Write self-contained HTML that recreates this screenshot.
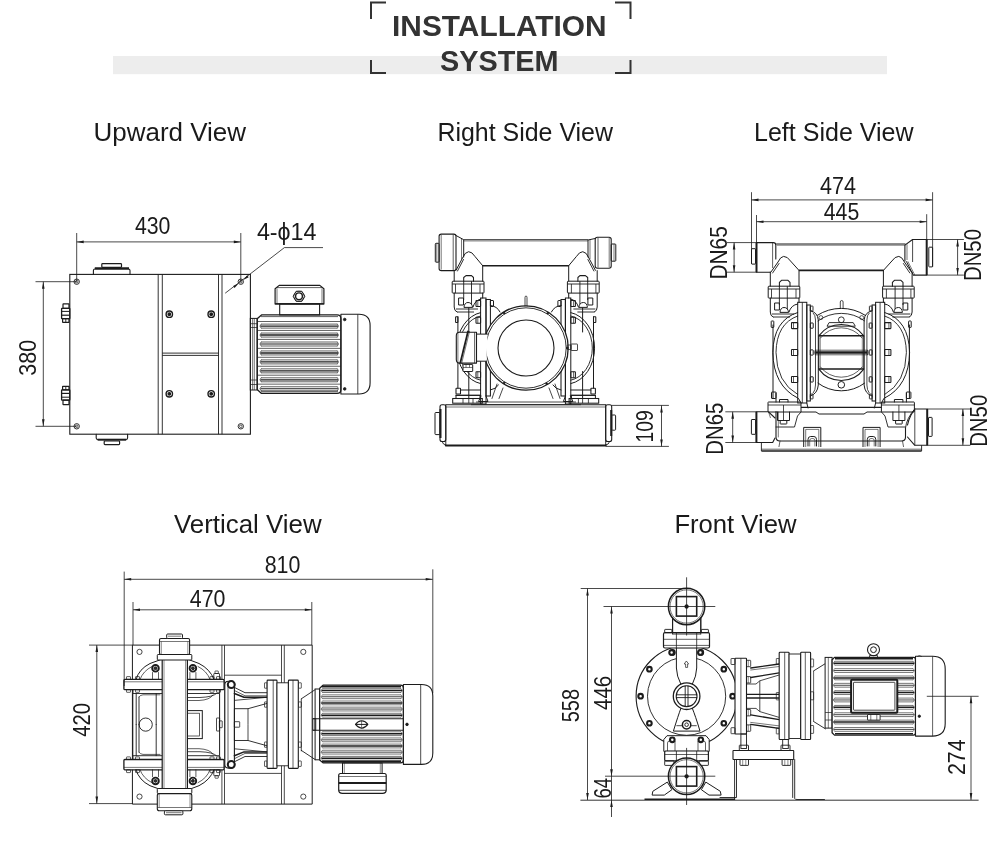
<!DOCTYPE html>
<html><head><meta charset="utf-8"><title>Installation System</title>
<style>html,body{margin:0;padding:0;background:#fff}body{width:1000px;height:854px;overflow:hidden}svg{display:block;will-change:transform;opacity:.999}text{font-family:"Liberation Sans",sans-serif}</style>
</head><body>
<svg width="1000" height="854" viewBox="0 0 1000 854">
<rect x="113" y="56" width="774" height="18.2" fill="#ededed"/>
<path d="M371 19V2.5H386" stroke="#333" stroke-width="2" fill="none"/>
<path d="M371 60V73H386" stroke="#333" stroke-width="2" fill="none"/>
<path d="M630.5 19V2.5H615" stroke="#333" stroke-width="2" fill="none"/>
<path d="M630.5 60V73H615" stroke="#333" stroke-width="2" fill="none"/>
<text x="499.3" y="36" font-size="29" text-anchor="middle" font-weight="700" fill="#333" textLength="214.5" lengthAdjust="spacingAndGlyphs">INSTALLATION</text>
<text x="499.3" y="70.5" font-size="29" text-anchor="middle" font-weight="700" fill="#333" textLength="118.5" lengthAdjust="spacingAndGlyphs">SYSTEM</text>
<text x="93.5" y="140.6" font-size="25.5" text-anchor="start" font-weight="400" fill="#1a1a1a" textLength="152.5" lengthAdjust="spacingAndGlyphs">Upward View</text>
<text x="437.4" y="140.6" font-size="25.5" text-anchor="start" font-weight="400" fill="#1a1a1a" textLength="175.6" lengthAdjust="spacingAndGlyphs">Right Side View</text>
<text x="754" y="140.6" font-size="25.5" text-anchor="start" font-weight="400" fill="#1a1a1a" textLength="159.6" lengthAdjust="spacingAndGlyphs">Left Side View</text>
<text x="174" y="532.9" font-size="25.5" text-anchor="start" font-weight="400" fill="#1a1a1a" textLength="147.6" lengthAdjust="spacingAndGlyphs">Vertical View</text>
<text x="674.4" y="532.9" font-size="25.5" text-anchor="start" font-weight="400" fill="#1a1a1a" textLength="122.1" lengthAdjust="spacingAndGlyphs">Front View</text>
<rect x="69.8" y="274.4" width="180.6" height="159.8" rx="0" stroke="#1c1c1c" stroke-width="1.1" fill="none"/>
<path d="M158.2 274.4L158.2 434.2" stroke="#1c1c1c" stroke-width="0.9" fill="none"/>
<path d="M162.3 274.4L162.3 434.2" stroke="#1c1c1c" stroke-width="0.9" fill="none"/>
<path d="M218.5 274.4L218.5 434.2" stroke="#1c1c1c" stroke-width="0.9" fill="none"/>
<path d="M222 274.4L222 434.2" stroke="#1c1c1c" stroke-width="0.9" fill="none"/>
<path d="M162.3 353.1L218.5 353.1" stroke="#1c1c1c" stroke-width="0.9" fill="none"/>
<path d="M162.3 355.4L218.5 355.4" stroke="#1c1c1c" stroke-width="0.9" fill="none"/>
<circle cx="76.7" cy="281.7" r="2.7" stroke="#1c1c1c" stroke-width="0.9" fill="none"/>
<circle cx="76.7" cy="281.7" r="1.3" stroke="#1c1c1c" stroke-width="0.7" fill="none"/>
<circle cx="240.8" cy="281.7" r="2.7" stroke="#1c1c1c" stroke-width="0.9" fill="none"/>
<circle cx="240.8" cy="281.7" r="1.3" stroke="#1c1c1c" stroke-width="0.7" fill="none"/>
<circle cx="76.7" cy="426.3" r="2.7" stroke="#1c1c1c" stroke-width="0.9" fill="none"/>
<circle cx="76.7" cy="426.3" r="1.3" stroke="#1c1c1c" stroke-width="0.7" fill="none"/>
<circle cx="240.8" cy="426.3" r="2.7" stroke="#1c1c1c" stroke-width="0.9" fill="none"/>
<circle cx="240.8" cy="426.3" r="1.3" stroke="#1c1c1c" stroke-width="0.7" fill="none"/>
<circle cx="169.3" cy="314.2" r="3.2" stroke="#1c1c1c" stroke-width="1.4" fill="none"/>
<circle cx="169.3" cy="314.2" r="1.3" stroke="#1c1c1c" stroke-width="1.2" fill="#1c1c1c"/>
<circle cx="211.2" cy="314.2" r="3.2" stroke="#1c1c1c" stroke-width="1.4" fill="none"/>
<circle cx="211.2" cy="314.2" r="1.3" stroke="#1c1c1c" stroke-width="1.2" fill="#1c1c1c"/>
<circle cx="169.3" cy="393.8" r="3.2" stroke="#1c1c1c" stroke-width="1.4" fill="none"/>
<circle cx="169.3" cy="393.8" r="1.3" stroke="#1c1c1c" stroke-width="1.2" fill="#1c1c1c"/>
<circle cx="211.2" cy="393.8" r="3.2" stroke="#1c1c1c" stroke-width="1.4" fill="none"/>
<circle cx="211.2" cy="393.8" r="1.3" stroke="#1c1c1c" stroke-width="1.2" fill="#1c1c1c"/>
<path d="M93.4 274.4V270.5Q93.4 269 95 269H128.4Q130 269 130 270.5V274.4" stroke="#1c1c1c" stroke-width="1.1" fill="none" stroke-linejoin="round" stroke-linecap="round"/>
<path d="M94.8 268.3L129 268.3" stroke="#1c1c1c" stroke-width="2.2" fill="none"/>
<rect x="101.8" y="263.7" width="19.7" height="3.7" rx="0.8" stroke="#1c1c1c" stroke-width="1.2" fill="none"/>
<path d="M96.2 434.2V438Q96.2 439.5 97.8 439.5H126Q127.6 439.5 127.6 438V434.2" stroke="#1c1c1c" stroke-width="1.1" fill="none" stroke-linejoin="round" stroke-linecap="round"/>
<path d="M97.6 439.7L126.2 439.7" stroke="#1c1c1c" stroke-width="2" fill="none"/>
<rect x="104.2" y="441" width="15.4" height="3.6" rx="0.8" stroke="#1c1c1c" stroke-width="1.2" fill="none"/>
<rect x="63" y="303.9" width="6" height="4.5" rx="0.4" stroke="#1c1c1c" stroke-width="1.2" fill="none"/>
<rect x="61.6" y="308.4" width="8.2" height="10.3" rx="0.4" stroke="#1c1c1c" stroke-width="1.3" fill="none"/>
<path d="M61.6 311.4L69.8 311.4" stroke="#1c1c1c" stroke-width="1" fill="none"/>
<path d="M61.6 315.2L69.8 315.2" stroke="#1c1c1c" stroke-width="1.2" fill="none"/>
<rect x="62.6" y="318.7" width="6.4" height="3.6" rx="0.3" stroke="#1c1c1c" stroke-width="1.2" fill="none"/>
<path d="M65.8 318.7L65.8 322.3" stroke="#1c1c1c" stroke-width="0.9" fill="none"/>
<g transform="translate(0,708.6) scale(1,-1)"><rect x="63" y="303.9" width="6" height="4.5" rx="0.4" stroke="#1c1c1c" stroke-width="1.2" fill="none"/><rect x="61.6" y="308.4" width="8.2" height="10.3" rx="0.4" stroke="#1c1c1c" stroke-width="1.3" fill="none"/><path d="M61.6 311.4L69.8 311.4" stroke="#1c1c1c" stroke-width="1" fill="none"/><path d="M61.6 315.2L69.8 315.2" stroke="#1c1c1c" stroke-width="1.2" fill="none"/><rect x="62.6" y="318.7" width="6.4" height="3.6" rx="0.3" stroke="#1c1c1c" stroke-width="1.2" fill="none"/><path d="M65.8 318.7L65.8 322.3" stroke="#1c1c1c" stroke-width="0.9" fill="none"/></g>
<path d="M76.7 241.9L240.8 241.9" stroke="#1c1c1c" stroke-width="0.8" fill="none"/>
<path d="M76.7 241.9L83.7 240.6L83.7 243.2Z" fill="#1c1c1c"/>
<path d="M240.8 241.9L233.8 243.2L233.8 240.6Z" fill="#1c1c1c"/>
<path d="M76.7 233L76.7 281.7" stroke="#1c1c1c" stroke-width="0.8" fill="none"/>
<path d="M240.8 233L240.8 281.7" stroke="#1c1c1c" stroke-width="0.8" fill="none"/>
<text x="152.7" y="234" font-size="23.5" text-anchor="middle" font-weight="400" fill="#1a1a1a" textLength="35.5" lengthAdjust="spacingAndGlyphs">430</text>
<path d="M43.3 281.7L43.3 426.3" stroke="#1c1c1c" stroke-width="0.8" fill="none"/>
<path d="M43.3 281.7L44.6 288.7L42 288.7Z" fill="#1c1c1c"/>
<path d="M43.3 426.3L42 419.3L44.6 419.3Z" fill="#1c1c1c"/>
<path d="M35.5 281.7L76.7 281.7" stroke="#1c1c1c" stroke-width="0.8" fill="none"/>
<path d="M35.5 426.3L76.7 426.3" stroke="#1c1c1c" stroke-width="0.8" fill="none"/>
<text x="36" y="357.8" font-size="23.5" text-anchor="middle" font-weight="400" fill="#1a1a1a" transform="rotate(-90 36 357.8)" textLength="35.8" lengthAdjust="spacingAndGlyphs">380</text>
<path d="M284.4 247.6L323 247.6" stroke="#1c1c1c" stroke-width="0.8" fill="none"/>
<path d="M284.4 247.6L225.2 293.2" stroke="#1c1c1c" stroke-width="0.8" fill="none"/>
<path d="M243.2 279.9L247.22 275.29L248.69 277.19Z" fill="#1c1c1c"/>
<path d="M238.6 283.4L234.58 288.01L233.11 286.11Z" fill="#1c1c1c"/>
<text x="256.9" y="240.2" font-size="23.5" text-anchor="start" font-weight="400" fill="#1a1a1a" textLength="59.6" lengthAdjust="spacingAndGlyphs">4-ϕ14</text>
<path d="M261.5 314.9H337Q340.9 314.9 340.9 318.5V389.8Q340.9 393.4 337 393.4H261.5L257.2 389.5V318.8Z" stroke="#1c1c1c" stroke-width="1.3" fill="none" stroke-linejoin="round" stroke-linecap="round"/>
<path d="M261 316.6L338 316.6" stroke="#1c1c1c" stroke-width="0.7" fill="none"/>
<path d="M261 391.7L338 391.7" stroke="#1c1c1c" stroke-width="0.7" fill="none"/>
<rect x="250.3" y="318.4" width="6.9" height="71.6" rx="0" stroke="#1c1c1c" stroke-width="1" fill="none"/>
<path d="M252.6 318.4L252.6 390" stroke="#1c1c1c" stroke-width="0.6" fill="none"/>
<path d="M254.3 318.4L254.3 390" stroke="#1c1c1c" stroke-width="0.6" fill="none"/>
<path d="M250.3 323.7L257.2 323.7" stroke="#1c1c1c" stroke-width="0.7" fill="none"/>
<path d="M250.3 327.5L257.2 327.5" stroke="#1c1c1c" stroke-width="0.7" fill="none"/>
<path d="M250.3 380L257.2 380" stroke="#1c1c1c" stroke-width="0.7" fill="none"/>
<path d="M250.3 384.5L257.2 384.5" stroke="#1c1c1c" stroke-width="0.7" fill="none"/>
<path d="M340.9 314.3H359Q370.1 314.3 370.1 325.5V382.8Q370.1 394 359 394H340.9Z" stroke="#1c1c1c" stroke-width="1.1" fill="none" stroke-linejoin="round" stroke-linecap="round"/>
<path d="M357.8 314.3L357.8 394" stroke="#1c1c1c" stroke-width="0.8" fill="none"/>
<circle cx="344.7" cy="319.5" r="1.3" stroke="#1c1c1c" stroke-width="0.8" fill="#1c1c1c"/>
<circle cx="344.7" cy="388.9" r="1.3" stroke="#1c1c1c" stroke-width="0.8" fill="#1c1c1c"/>
<path d="M258 321.5L340.5 321.5" stroke="#1c1c1c" stroke-width="0.7" fill="none"/>
<path d="M261 324.1L337.5 324.1" stroke="#1c1c1c" stroke-width="0.7" fill="none"/>
<path d="M260.5 326.1L338 326.1" stroke="#1c1c1c" stroke-width="1.2" fill="none"/>
<path d="M261 328.1L337.5 328.1" stroke="#1c1c1c" stroke-width="0.7" fill="none"/>
<path d="M337.5 324.1Q340 326.1 337.5 328.1M261 324.1Q258.5 326.1 261 328.1" stroke="#1c1c1c" stroke-width="0.6" fill="none" stroke-linejoin="round" stroke-linecap="round"/>
<path d="M258 330.45L340.5 330.45" stroke="#1c1c1c" stroke-width="0.7" fill="none"/>
<path d="M261 333.05L337.5 333.05" stroke="#1c1c1c" stroke-width="0.7" fill="none"/>
<path d="M260.5 335.05L338 335.05" stroke="#555" stroke-width="1.9" fill="none"/>
<path d="M261 337.05L337.5 337.05" stroke="#1c1c1c" stroke-width="0.7" fill="none"/>
<path d="M337.5 333.05Q340 335.05 337.5 337.05M261 333.05Q258.5 335.05 261 337.05" stroke="#1c1c1c" stroke-width="0.6" fill="none" stroke-linejoin="round" stroke-linecap="round"/>
<path d="M258 339.4L340.5 339.4" stroke="#1c1c1c" stroke-width="0.7" fill="none"/>
<path d="M261 342L337.5 342" stroke="#1c1c1c" stroke-width="0.7" fill="none"/>
<path d="M260.5 344L338 344" stroke="#1c1c1c" stroke-width="1.2" fill="none"/>
<path d="M261 346L337.5 346" stroke="#1c1c1c" stroke-width="0.7" fill="none"/>
<path d="M337.5 342Q340 344 337.5 346M261 342Q258.5 344 261 346" stroke="#1c1c1c" stroke-width="0.6" fill="none" stroke-linejoin="round" stroke-linecap="round"/>
<path d="M258 348.35L340.5 348.35" stroke="#1c1c1c" stroke-width="0.7" fill="none"/>
<path d="M261 350.95L337.5 350.95" stroke="#1c1c1c" stroke-width="0.7" fill="none"/>
<path d="M260.5 352.95L338 352.95" stroke="#555" stroke-width="1.9" fill="none"/>
<path d="M261 354.95L337.5 354.95" stroke="#1c1c1c" stroke-width="0.7" fill="none"/>
<path d="M337.5 350.95Q340 352.95 337.5 354.95M261 350.95Q258.5 352.95 261 354.95" stroke="#1c1c1c" stroke-width="0.6" fill="none" stroke-linejoin="round" stroke-linecap="round"/>
<path d="M258 357.3L340.5 357.3" stroke="#1c1c1c" stroke-width="0.7" fill="none"/>
<path d="M261 359.9L337.5 359.9" stroke="#1c1c1c" stroke-width="0.7" fill="none"/>
<path d="M260.5 361.9L338 361.9" stroke="#1c1c1c" stroke-width="1.2" fill="none"/>
<path d="M261 363.9L337.5 363.9" stroke="#1c1c1c" stroke-width="0.7" fill="none"/>
<path d="M337.5 359.9Q340 361.9 337.5 363.9M261 359.9Q258.5 361.9 261 363.9" stroke="#1c1c1c" stroke-width="0.6" fill="none" stroke-linejoin="round" stroke-linecap="round"/>
<path d="M258 366.25L340.5 366.25" stroke="#1c1c1c" stroke-width="0.7" fill="none"/>
<path d="M261 368.85L337.5 368.85" stroke="#1c1c1c" stroke-width="0.7" fill="none"/>
<path d="M260.5 370.85L338 370.85" stroke="#1c1c1c" stroke-width="1.2" fill="none"/>
<path d="M261 372.85L337.5 372.85" stroke="#1c1c1c" stroke-width="0.7" fill="none"/>
<path d="M337.5 368.85Q340 370.85 337.5 372.85M261 368.85Q258.5 370.85 261 372.85" stroke="#1c1c1c" stroke-width="0.6" fill="none" stroke-linejoin="round" stroke-linecap="round"/>
<path d="M258 375.2L340.5 375.2" stroke="#1c1c1c" stroke-width="0.7" fill="none"/>
<path d="M261 377.8L337.5 377.8" stroke="#1c1c1c" stroke-width="0.7" fill="none"/>
<path d="M260.5 379.8L338 379.8" stroke="#1c1c1c" stroke-width="1.2" fill="none"/>
<path d="M261 381.8L337.5 381.8" stroke="#1c1c1c" stroke-width="0.7" fill="none"/>
<path d="M337.5 377.8Q340 379.8 337.5 381.8M261 377.8Q258.5 379.8 261 381.8" stroke="#1c1c1c" stroke-width="0.6" fill="none" stroke-linejoin="round" stroke-linecap="round"/>
<path d="M258 384.15L340.5 384.15" stroke="#1c1c1c" stroke-width="0.7" fill="none"/>
<path d="M261 386.75L337.5 386.75" stroke="#1c1c1c" stroke-width="0.7" fill="none"/>
<path d="M260.5 388.75L338 388.75" stroke="#1c1c1c" stroke-width="1.2" fill="none"/>
<path d="M261 390.75L337.5 390.75" stroke="#1c1c1c" stroke-width="0.7" fill="none"/>
<path d="M337.5 386.75Q340 388.75 337.5 390.75M261 386.75Q258.5 388.75 261 390.75" stroke="#1c1c1c" stroke-width="0.6" fill="none" stroke-linejoin="round" stroke-linecap="round"/>
<path d="M275.1 303.9V288.8L279.2 285.4H319.8L323.9 288.8V303.9Z" stroke="#1c1c1c" stroke-width="1.2" fill="none" stroke-linejoin="round" stroke-linecap="round"/>
<path d="M277 287.6L322 287.6" stroke="#1c1c1c" stroke-width="0.7" fill="none"/>
<path d="M277 288.5L277 303.9" stroke="#1c1c1c" stroke-width="0.6" fill="none"/>
<path d="M322 288.5L322 303.9" stroke="#1c1c1c" stroke-width="0.6" fill="none"/>
<rect x="279.7" y="303.9" width="39.9" height="11" rx="0" stroke="#1c1c1c" stroke-width="1.1" fill="none"/>
<path d="M275.1 303.9L323.9 303.9" stroke="#1c1c1c" stroke-width="1.3" fill="none"/>
<circle cx="299" cy="296.3" r="3.4" stroke="#1c1c1c" stroke-width="1.4" fill="none"/>
<path d="M304.8 296.3L301.9 301.32L296.1 301.32L293.2 296.3L296.1 291.28L301.9 291.28Z" stroke="#1c1c1c" stroke-width="1" fill="none" stroke-linejoin="round"/>
<circle cx="299" cy="296.3" r="5.2" stroke="#1c1c1c" stroke-width="0.6" fill="none"/>
<path d="M454.2 270.6V281.2M482.7 265.7V281.2" stroke="#1c1c1c" stroke-width="1" fill="none" stroke-linejoin="round" stroke-linecap="round"/>
<path d="M456 270.3L462.5 258Q465 252 468.6 251.7Q472 251.7 475 256.5L482.7 265.7" stroke="#1c1c1c" stroke-width="1" fill="none" stroke-linejoin="round" stroke-linecap="round"/>
<path d="M457.5 271L463.5 259.5" stroke="#1c1c1c" stroke-width="0.9" fill="none" stroke-linejoin="round" stroke-linecap="round"/>
<rect x="452.2" y="281.2" width="31.8" height="11.9" rx="0.8" stroke="#1c1c1c" stroke-width="1" fill="none"/>
<path d="M463.7 281.2V277.5L466 275.6H471.5L473.5 277.5V281.2" stroke="#1c1c1c" stroke-width="1.05" fill="none" stroke-linejoin="round" stroke-linecap="round"/>
<path d="M452.2 284L484 284" stroke="#1c1c1c" stroke-width="0.9" fill="none"/>
<path d="M463.7 281.2L463.7 300" stroke="#1c1c1c" stroke-width="0.9" fill="none"/>
<path d="M471.5 281.2L471.5 304" stroke="#1c1c1c" stroke-width="0.9" fill="none"/>
<path d="M455.5 284L455.5 293.1" stroke="#1c1c1c" stroke-width="0.8" fill="none"/>
<path d="M480 284L480 293.1" stroke="#1c1c1c" stroke-width="0.8" fill="none"/>
<path d="M454.2 293.1V307Q454.2 311 457 312" stroke="#1c1c1c" stroke-width="1" fill="none" stroke-linejoin="round" stroke-linecap="round"/>
<path d="M482.7 293.1V298" stroke="#1c1c1c" stroke-width="1.05" fill="none" stroke-linejoin="round" stroke-linecap="round"/>
<path d="M459 298H463.5V305H459Z" stroke="#1c1c1c" stroke-width="1" fill="none" stroke-linejoin="round" stroke-linecap="round"/>
<path d="M464 307Q464.5 302.5 468 302.5Q472 302.5 472.5 307Z" stroke="#1c1c1c" stroke-width="1" fill="none" stroke-linejoin="round" stroke-linecap="round"/>
<path d="M473 307Q475 300 481 299" stroke="#1c1c1c" stroke-width="1" fill="none" stroke-linejoin="round" stroke-linecap="round"/>
<path d="M456 309L478 309" stroke="#1c1c1c" stroke-width="0.9" fill="none"/>
<path d="M457 312L474 312" stroke="#1c1c1c" stroke-width="0.9" fill="none"/>
<rect x="455.6" y="316.7" width="2.3" height="5.8" rx="0.5" stroke="#1c1c1c" stroke-width="1.05" fill="none"/>
<rect x="480.6" y="298" width="5.4" height="106" rx="0" stroke="#1c1c1c" stroke-width="1" fill="none"/>
<rect x="486" y="299.5" width="4.4" height="96.5" rx="0" stroke="#1c1c1c" stroke-width="1.05" fill="none"/>
<rect x="476" y="300.5" width="4.6" height="6" rx="0.5" stroke="#1c1c1c" stroke-width="1.05" fill="none"/>
<path d="M477.8 300.5L477.8 306.5" stroke="#1c1c1c" stroke-width="0.7" fill="none"/>
<rect x="476" y="317.3" width="4.6" height="6" rx="0.5" stroke="#1c1c1c" stroke-width="1.05" fill="none"/>
<path d="M477.8 317.3L477.8 323.3" stroke="#1c1c1c" stroke-width="0.7" fill="none"/>
<rect x="476" y="371.7" width="4.6" height="6" rx="0.5" stroke="#1c1c1c" stroke-width="1.05" fill="none"/>
<path d="M477.8 371.7L477.8 377.7" stroke="#1c1c1c" stroke-width="0.7" fill="none"/>
<rect x="490.4" y="300.5" width="3.1" height="6" rx="0.5" stroke="#1c1c1c" stroke-width="1" fill="none"/>
<path d="M480.6 312.6A28.5 36 0 0 0 480.6 383.6" stroke="#1c1c1c" stroke-width="1" fill="none" stroke-linejoin="round" stroke-linecap="round"/>
<path d="M480.6 316A25.5 32.5 0 0 0 480.6 380.2" stroke="#1c1c1c" stroke-width="0.9" fill="none" stroke-linejoin="round" stroke-linecap="round"/>
<path d="M457.9 316.7V388.2M468.8 308V332M468.8 371.5V398.5" stroke="#1c1c1c" stroke-width="1" fill="none" stroke-linejoin="round" stroke-linecap="round"/>
<path d="M460.5 390H480.6M456 395.3H480.6" stroke="#1c1c1c" stroke-width="1" fill="none" stroke-linejoin="round" stroke-linecap="round"/>
<rect x="456" y="388.2" width="4.5" height="5.8" rx="0.5" stroke="#1c1c1c" stroke-width="1.05" fill="none"/>
<rect x="452.7" y="398.5" width="29.6" height="4.7" rx="0" stroke="#1c1c1c" stroke-width="1.05" fill="none"/>
<rect x="456" y="395.3" width="24" height="3.2" rx="0" stroke="#1c1c1c" stroke-width="1" fill="none"/>
<path d="M463 398.5L463 403.2" stroke="#1c1c1c" stroke-width="0.8" fill="none"/>
<path d="M468.8 398.5L468.8 403.2" stroke="#1c1c1c" stroke-width="0.8" fill="none"/>
<path d="M473 398.5L473 403.2" stroke="#1c1c1c" stroke-width="0.8" fill="none"/>
<path d="M481 396L478.5 401.5H488L486 396" stroke="#1c1c1c" stroke-width="1" fill="none" stroke-linejoin="round" stroke-linecap="round"/>
<path d="M490.4 305.5Q497 306 500 312" stroke="#1c1c1c" stroke-width="1" fill="none" stroke-linejoin="round" stroke-linecap="round"/>
<path d="M490.4 390Q496 389 498.5 385" stroke="#1c1c1c" stroke-width="1" fill="none" stroke-linejoin="round" stroke-linecap="round"/>
<g transform="translate(1051.4,0) scale(-1,1)"><path d="M454.2 270.6V281.2M482.7 265.7V281.2" stroke="#1c1c1c" stroke-width="1" fill="none" stroke-linejoin="round" stroke-linecap="round"/><path d="M456 270.3L462.5 258Q465 252 468.6 251.7Q472 251.7 475 256.5L482.7 265.7" stroke="#1c1c1c" stroke-width="1" fill="none" stroke-linejoin="round" stroke-linecap="round"/><path d="M457.5 271L463.5 259.5" stroke="#1c1c1c" stroke-width="0.9" fill="none" stroke-linejoin="round" stroke-linecap="round"/><rect x="452.2" y="281.2" width="31.8" height="11.9" rx="0.8" stroke="#1c1c1c" stroke-width="1" fill="none"/><path d="M463.7 281.2V277.5L466 275.6H471.5L473.5 277.5V281.2" stroke="#1c1c1c" stroke-width="1.05" fill="none" stroke-linejoin="round" stroke-linecap="round"/><path d="M452.2 284L484 284" stroke="#1c1c1c" stroke-width="0.9" fill="none"/><path d="M463.7 281.2L463.7 300" stroke="#1c1c1c" stroke-width="0.9" fill="none"/><path d="M471.5 281.2L471.5 304" stroke="#1c1c1c" stroke-width="0.9" fill="none"/><path d="M455.5 284L455.5 293.1" stroke="#1c1c1c" stroke-width="0.8" fill="none"/><path d="M480 284L480 293.1" stroke="#1c1c1c" stroke-width="0.8" fill="none"/><path d="M454.2 293.1V307Q454.2 311 457 312" stroke="#1c1c1c" stroke-width="1" fill="none" stroke-linejoin="round" stroke-linecap="round"/><path d="M482.7 293.1V298" stroke="#1c1c1c" stroke-width="1.05" fill="none" stroke-linejoin="round" stroke-linecap="round"/><path d="M459 298H463.5V305H459Z" stroke="#1c1c1c" stroke-width="1" fill="none" stroke-linejoin="round" stroke-linecap="round"/><path d="M464 307Q464.5 302.5 468 302.5Q472 302.5 472.5 307Z" stroke="#1c1c1c" stroke-width="1" fill="none" stroke-linejoin="round" stroke-linecap="round"/><path d="M473 307Q475 300 481 299" stroke="#1c1c1c" stroke-width="1" fill="none" stroke-linejoin="round" stroke-linecap="round"/><path d="M456 309L478 309" stroke="#1c1c1c" stroke-width="0.9" fill="none"/><path d="M457 312L474 312" stroke="#1c1c1c" stroke-width="0.9" fill="none"/><rect x="455.6" y="316.7" width="2.3" height="5.8" rx="0.5" stroke="#1c1c1c" stroke-width="1.05" fill="none"/><rect x="480.6" y="298" width="5.4" height="106" rx="0" stroke="#1c1c1c" stroke-width="1" fill="none"/><rect x="486" y="299.5" width="4.4" height="96.5" rx="0" stroke="#1c1c1c" stroke-width="1.05" fill="none"/><rect x="476" y="300.5" width="4.6" height="6" rx="0.5" stroke="#1c1c1c" stroke-width="1.05" fill="none"/><path d="M477.8 300.5L477.8 306.5" stroke="#1c1c1c" stroke-width="0.7" fill="none"/><rect x="476" y="317.3" width="4.6" height="6" rx="0.5" stroke="#1c1c1c" stroke-width="1.05" fill="none"/><path d="M477.8 317.3L477.8 323.3" stroke="#1c1c1c" stroke-width="0.7" fill="none"/><rect x="476" y="371.7" width="4.6" height="6" rx="0.5" stroke="#1c1c1c" stroke-width="1.05" fill="none"/><path d="M477.8 371.7L477.8 377.7" stroke="#1c1c1c" stroke-width="0.7" fill="none"/><rect x="490.4" y="300.5" width="3.1" height="6" rx="0.5" stroke="#1c1c1c" stroke-width="1" fill="none"/><path d="M480.6 312.6A28.5 36 0 0 0 480.6 383.6" stroke="#1c1c1c" stroke-width="1" fill="none" stroke-linejoin="round" stroke-linecap="round"/><path d="M480.6 316A25.5 32.5 0 0 0 480.6 380.2" stroke="#1c1c1c" stroke-width="0.9" fill="none" stroke-linejoin="round" stroke-linecap="round"/><path d="M457.9 316.7V388.2M468.8 308V332M468.8 371.5V398.5" stroke="#1c1c1c" stroke-width="1" fill="none" stroke-linejoin="round" stroke-linecap="round"/><path d="M460.5 390H480.6M456 395.3H480.6" stroke="#1c1c1c" stroke-width="1" fill="none" stroke-linejoin="round" stroke-linecap="round"/><rect x="456" y="388.2" width="4.5" height="5.8" rx="0.5" stroke="#1c1c1c" stroke-width="1.05" fill="none"/><rect x="452.7" y="398.5" width="29.6" height="4.7" rx="0" stroke="#1c1c1c" stroke-width="1.05" fill="none"/><rect x="456" y="395.3" width="24" height="3.2" rx="0" stroke="#1c1c1c" stroke-width="1" fill="none"/><path d="M463 398.5L463 403.2" stroke="#1c1c1c" stroke-width="0.8" fill="none"/><path d="M468.8 398.5L468.8 403.2" stroke="#1c1c1c" stroke-width="0.8" fill="none"/><path d="M473 398.5L473 403.2" stroke="#1c1c1c" stroke-width="0.8" fill="none"/><path d="M481 396L478.5 401.5H488L486 396" stroke="#1c1c1c" stroke-width="1" fill="none" stroke-linejoin="round" stroke-linecap="round"/><path d="M490.4 305.5Q497 306 500 312" stroke="#1c1c1c" stroke-width="1" fill="none" stroke-linejoin="round" stroke-linecap="round"/><path d="M490.4 390Q496 389 498.5 385" stroke="#1c1c1c" stroke-width="1" fill="none" stroke-linejoin="round" stroke-linecap="round"/></g>
<rect x="439.1" y="234.1" width="16.9" height="36.5" rx="2.2" stroke="#1c1c1c" stroke-width="1.1" fill="none"/>
<path d="M453.2 234.5L453.2 270.2" stroke="#1c1c1c" stroke-width="0.7" fill="none"/>
<path d="M441.2 235L441.2 269.6" stroke="#1c1c1c" stroke-width="0.6" fill="none"/>
<rect x="435.3" y="243.3" width="3.8" height="18.9" rx="0.8" stroke="#1c1c1c" stroke-width="1" fill="none"/>
<path d="M436.8 243.5L436.8 262" stroke="#1c1c1c" stroke-width="0.6" fill="none"/>
<path d="M456 235.5L463.7 239.7V257" stroke="#1c1c1c" stroke-width="1" fill="none" stroke-linejoin="round" stroke-linecap="round"/>
<path d="M461.5 238.6L461.5 259.5" stroke="#1c1c1c" stroke-width="0.6" fill="none"/>
<rect x="595.2" y="237.2" width="16" height="31" rx="2.2" stroke="#1c1c1c" stroke-width="1.1" fill="none"/>
<path d="M598 237.6L598 267.8" stroke="#1c1c1c" stroke-width="0.7" fill="none"/>
<path d="M609.2 238L609.2 267.4" stroke="#1c1c1c" stroke-width="0.6" fill="none"/>
<rect x="611.2" y="244" width="4.6" height="17.2" rx="0.8" stroke="#1c1c1c" stroke-width="1" fill="none"/>
<path d="M614 244.2L614 261" stroke="#1c1c1c" stroke-width="0.6" fill="none"/>
<path d="M595.2 238.5L588 240V257" stroke="#1c1c1c" stroke-width="1" fill="none" stroke-linejoin="round" stroke-linecap="round"/>
<path d="M590 239.7L590 259" stroke="#1c1c1c" stroke-width="0.6" fill="none"/>
<path d="M463.7 239.7L588 239.7" stroke="#1c1c1c" stroke-width="1.1" fill="none"/>
<path d="M463.7 241L588 241" stroke="#1c1c1c" stroke-width="0.5" fill="none"/>
<path d="M482.7 265.7L568.7 265.7" stroke="#1c1c1c" stroke-width="1.6" fill="none"/>
<circle cx="526" cy="348" r="42.2" stroke="#1c1c1c" stroke-width="1.3" fill="#fff"/>
<circle cx="526" cy="348" r="40.2" stroke="#1c1c1c" stroke-width="0.9" fill="none"/>
<circle cx="526" cy="348" r="28" stroke="#1c1c1c" stroke-width="1.1" fill="none"/>
<circle cx="504.17" cy="313.06" r="0.9" stroke="#1c1c1c" stroke-width="0.8" fill="#1c1c1c"/>
<circle cx="547.83" cy="313.06" r="0.9" stroke="#1c1c1c" stroke-width="0.8" fill="#1c1c1c"/>
<circle cx="567.2" cy="348" r="0.9" stroke="#1c1c1c" stroke-width="0.8" fill="#1c1c1c"/>
<circle cx="546.6" cy="383.68" r="0.9" stroke="#1c1c1c" stroke-width="0.8" fill="#1c1c1c"/>
<circle cx="504.17" cy="382.94" r="0.9" stroke="#1c1c1c" stroke-width="0.8" fill="#1c1c1c"/>
<path d="M525 306V297.5Q525 296 526 296Q527 296 527 297.5V306" stroke="#1c1c1c" stroke-width="0.8" fill="none" stroke-linejoin="round" stroke-linecap="round"/>
<path d="M487.5 334.1H476.5V361.2H486.5" stroke="#1c1c1c" stroke-width="1" fill="#fff" stroke-linejoin="round" stroke-linecap="round"/>
<path d="M459.5 332.2H476.5V363.1H459.5Q456.3 363.1 456.3 359.5V335.8Q456.3 332.2 459.5 332.2Z" stroke="#1c1c1c" stroke-width="1.1" fill="#fff" stroke-linejoin="round" stroke-linecap="round"/>
<path d="M457.9 333L457.9 362.3" stroke="#1c1c1c" stroke-width="0.6" fill="none"/>
<path d="M474.6 332.2L474.6 363.1" stroke="#1c1c1c" stroke-width="0.7" fill="none"/>
<path d="M468.2 330.8L460.2 363.1" stroke="#1c1c1c" stroke-width="1.8" fill="none"/>
<path d="M469.6 331.2L461.6 363.5" stroke="#1c1c1c" stroke-width="0.6" fill="none"/>
<rect x="463" y="364.4" width="9.7" height="7.1" rx="0.4" stroke="#1c1c1c" stroke-width="1" fill="#fff"/>
<path d="M466 364.4L466 367.5" stroke="#1c1c1c" stroke-width="0.6" fill="none"/>
<path d="M469.5 364.4L469.5 367.5" stroke="#1c1c1c" stroke-width="0.6" fill="none"/>
<path d="M463 367.5L472.7 367.5" stroke="#1c1c1c" stroke-width="0.6" fill="none"/>
<rect x="571" y="344" width="6.5" height="6.5" rx="0.5" stroke="#1c1c1c" stroke-width="0.8" fill="none"/>
<rect x="567.2" y="345" width="3.8" height="4.5" rx="0.3" stroke="#1c1c1c" stroke-width="0.7" fill="none"/>
<path d="M497 384L492 398.5M503 388L499 398.5" stroke="#1c1c1c" stroke-width="0.8" fill="none" stroke-linejoin="round" stroke-linecap="round"/>
<path d="M555 384L560 398.5M549 388L553 398.5" stroke="#1c1c1c" stroke-width="0.8" fill="none" stroke-linejoin="round" stroke-linecap="round"/>
<path d="M476 402L576 402" stroke="#1c1c1c" stroke-width="0.8" fill="none"/>
<path d="M471 404.7L581 404.7" stroke="#1c1c1c" stroke-width="0.8" fill="none"/>
<path d="M445.8 404.7H605.7" stroke="#1c1c1c" stroke-width="1.1" fill="none" stroke-linejoin="round" stroke-linecap="round"/>
<path d="M445.8 445.5H605.7" stroke="#1c1c1c" stroke-width="2" fill="none" stroke-linejoin="round" stroke-linecap="round"/>
<rect x="440" y="404.7" width="5.8" height="36.8" rx="2" stroke="#1c1c1c" stroke-width="1.1" fill="none"/>
<rect x="605.7" y="404.7" width="6" height="36.8" rx="2" stroke="#1c1c1c" stroke-width="1.1" fill="none"/>
<path d="M445.8 404.7L445.8 445" stroke="#1c1c1c" stroke-width="0.9" fill="none"/>
<path d="M605.7 404.7L605.7 445" stroke="#1c1c1c" stroke-width="0.9" fill="none"/>
<path d="M445.8 407L605.7 407" stroke="#1c1c1c" stroke-width="0.6" fill="none"/>
<path d="M442 441.5Q443 445 445.8 445M609.7 441.5Q608.7 445 605.7 445" stroke="#1c1c1c" stroke-width="0.9" fill="none" stroke-linejoin="round" stroke-linecap="round"/>
<rect x="435" y="412.5" width="5" height="22.1" rx="0.8" stroke="#1c1c1c" stroke-width="1" fill="none"/>
<path d="M440.5 409L440.5 438" stroke="#1c1c1c" stroke-width="2" fill="none"/>
<rect x="611.7" y="415" width="3.9" height="15.2" rx="0.8" stroke="#1c1c1c" stroke-width="1" fill="none"/>
<path d="M611.2 410L611.2 436" stroke="#1c1c1c" stroke-width="2" fill="none"/>
<path d="M611.7 405.4L668.9 405.4" stroke="#1c1c1c" stroke-width="0.8" fill="none"/>
<path d="M605.7 446.4L668.9 446.4" stroke="#1c1c1c" stroke-width="0.8" fill="none"/>
<path d="M661.5 405.4L661.5 446.4" stroke="#1c1c1c" stroke-width="0.8" fill="none"/>
<path d="M661.5 405.4L662.8 412.4L660.2 412.4Z" fill="#1c1c1c"/>
<path d="M661.5 446.4L660.2 439.4L662.8 439.4Z" fill="#1c1c1c"/>
<text x="653.1" y="426.3" font-size="23.5" text-anchor="middle" font-weight="400" fill="#1a1a1a" transform="rotate(-90 653.1 426.3)" textLength="32.4" lengthAdjust="spacingAndGlyphs">109</text>
<path d="M770.3 272.1V286.2M799 270.4V286.2" stroke="#1c1c1c" stroke-width="1" fill="none" stroke-linejoin="round" stroke-linecap="round"/>
<path d="M771 272L778 262Q780.5 256.6 783.6 256.4Q787.5 256.4 790.5 261L799 270.4" stroke="#1c1c1c" stroke-width="1" fill="none" stroke-linejoin="round" stroke-linecap="round"/>
<path d="M772.6 273L779 263.5" stroke="#1c1c1c" stroke-width="0.9" fill="none" stroke-linejoin="round" stroke-linecap="round"/>
<rect x="768.2" y="286.2" width="31.6" height="11.9" rx="0.8" stroke="#1c1c1c" stroke-width="1" fill="none"/>
<path d="M779.4 286.2V282.3L781.5 280.3H788L790 282.3V286.2" stroke="#1c1c1c" stroke-width="1.05" fill="none" stroke-linejoin="round" stroke-linecap="round"/>
<path d="M768.2 289L799.8 289" stroke="#1c1c1c" stroke-width="0.9" fill="none"/>
<path d="M779.4 286.2L779.4 305" stroke="#1c1c1c" stroke-width="0.9" fill="none"/>
<path d="M787.3 286.2L787.3 309" stroke="#1c1c1c" stroke-width="0.9" fill="none"/>
<path d="M771.5 289L771.5 298.1" stroke="#1c1c1c" stroke-width="0.8" fill="none"/>
<path d="M796 289L796 298.1" stroke="#1c1c1c" stroke-width="0.8" fill="none"/>
<path d="M770.3 298.1V312Q770.3 316 773 317" stroke="#1c1c1c" stroke-width="1" fill="none" stroke-linejoin="round" stroke-linecap="round"/>
<path d="M799 298.1V302.3" stroke="#1c1c1c" stroke-width="1.05" fill="none" stroke-linejoin="round" stroke-linecap="round"/>
<path d="M775 303H779.4V310H775Z" stroke="#1c1c1c" stroke-width="1" fill="none" stroke-linejoin="round" stroke-linecap="round"/>
<path d="M780 312Q780.5 307.5 784 307.5Q788 307.5 788.5 312Z" stroke="#1c1c1c" stroke-width="1" fill="none" stroke-linejoin="round" stroke-linecap="round"/>
<path d="M789 312Q791 305 797.7 304" stroke="#1c1c1c" stroke-width="1" fill="none" stroke-linejoin="round" stroke-linecap="round"/>
<path d="M772 314L794 314" stroke="#1c1c1c" stroke-width="0.9" fill="none"/>
<path d="M773 317L790 317" stroke="#1c1c1c" stroke-width="0.9" fill="none"/>
<rect x="771.2" y="321" width="2.6" height="6.5" rx="0.5" stroke="#1c1c1c" stroke-width="1" fill="none"/>
<rect x="797.7" y="302.3" width="9.1" height="100.7" rx="0" stroke="#1c1c1c" stroke-width="1" fill="none"/>
<rect x="806.8" y="305" width="3.5" height="96" rx="0" stroke="#1c1c1c" stroke-width="1.05" fill="none"/>
<path d="M802.3 302.3L802.3 403" stroke="#1c1c1c" stroke-width="0.8" fill="none"/>
<rect x="791.5" y="322.6" width="6.2" height="6" rx="0.5" stroke="#1c1c1c" stroke-width="1.05" fill="none"/>
<path d="M793.5 322.6L793.5 328.6" stroke="#1c1c1c" stroke-width="0.7" fill="none"/>
<rect x="810.3" y="323" width="2.9" height="5.2" rx="0.4" stroke="#1c1c1c" stroke-width="1" fill="none"/>
<rect x="791.5" y="349.5" width="6.2" height="6" rx="0.5" stroke="#1c1c1c" stroke-width="1.05" fill="none"/>
<path d="M793.5 349.5L793.5 355.5" stroke="#1c1c1c" stroke-width="0.7" fill="none"/>
<rect x="810.3" y="349.9" width="2.9" height="5.2" rx="0.4" stroke="#1c1c1c" stroke-width="1" fill="none"/>
<rect x="791.5" y="376.4" width="6.2" height="6" rx="0.5" stroke="#1c1c1c" stroke-width="1.05" fill="none"/>
<path d="M793.5 376.4L793.5 382.4" stroke="#1c1c1c" stroke-width="0.7" fill="none"/>
<rect x="810.3" y="376.8" width="2.9" height="5.2" rx="0.4" stroke="#1c1c1c" stroke-width="1" fill="none"/>
<rect x="810.3" y="306.1" width="2.7" height="4.8" rx="0.4" stroke="#1c1c1c" stroke-width="0.9" fill="none"/>
<rect x="810.3" y="394.1" width="2.7" height="4.8" rx="0.4" stroke="#1c1c1c" stroke-width="0.9" fill="none"/>
<path d="M797.7 312.5Q773.5 320 772.8 352.5Q773.5 386 797.7 398" stroke="#1c1c1c" stroke-width="1" fill="none" stroke-linejoin="round" stroke-linecap="round"/>
<path d="M797.7 316Q776.5 323.5 776 352.5Q776.5 382.5 797.7 394.5" stroke="#1c1c1c" stroke-width="0.9" fill="none" stroke-linejoin="round" stroke-linecap="round"/>
<path d="M810.3 310.8Q817.5 312 818.3 320V385Q817.5 394 810.3 396" stroke="#1c1c1c" stroke-width="1" fill="none" stroke-linejoin="round" stroke-linecap="round"/>
<path d="M813.2 313Q815.5 315 815.5 320V385Q815.5 390 813.2 393" stroke="#1c1c1c" stroke-width="0.8" fill="none" stroke-linejoin="round" stroke-linecap="round"/>
<path d="M773 325V398M776 393V402" stroke="#1c1c1c" stroke-width="1" fill="none" stroke-linejoin="round" stroke-linecap="round"/>
<rect x="771.5" y="392" width="4.5" height="6.5" rx="0.5" stroke="#1c1c1c" stroke-width="1" fill="none"/>
<rect x="768" y="402" width="33" height="10" rx="0.5" stroke="#1c1c1c" stroke-width="1" fill="none"/>
<path d="M768 405L801 405" stroke="#1c1c1c" stroke-width="0.8" fill="none"/>
<path d="M779.5 402V399.5H788V402" stroke="#1c1c1c" stroke-width="1" fill="none" stroke-linejoin="round" stroke-linecap="round"/>
<path d="M777.5 412V420.5H789.5V412" stroke="#1c1c1c" stroke-width="1" fill="none" stroke-linejoin="round" stroke-linecap="round"/>
<rect x="780.2" y="420.5" width="6.6" height="3.5" rx="0.4" stroke="#1c1c1c" stroke-width="1" fill="none"/>
<path d="M783.5 405L783.5 420.5" stroke="#1c1c1c" stroke-width="0.8" fill="none"/>
<path d="M801 403L798.5 398.5M806.8 403L808 408" stroke="#1c1c1c" stroke-width="1" fill="none" stroke-linejoin="round" stroke-linecap="round"/>
<g transform="translate(1682.4,0) scale(-1,1)"><path d="M770.3 272.1V286.2M799 270.4V286.2" stroke="#1c1c1c" stroke-width="1" fill="none" stroke-linejoin="round" stroke-linecap="round"/><path d="M771 272L778 262Q780.5 256.6 783.6 256.4Q787.5 256.4 790.5 261L799 270.4" stroke="#1c1c1c" stroke-width="1" fill="none" stroke-linejoin="round" stroke-linecap="round"/><path d="M772.6 273L779 263.5" stroke="#1c1c1c" stroke-width="0.9" fill="none" stroke-linejoin="round" stroke-linecap="round"/><rect x="768.2" y="286.2" width="31.6" height="11.9" rx="0.8" stroke="#1c1c1c" stroke-width="1" fill="none"/><path d="M779.4 286.2V282.3L781.5 280.3H788L790 282.3V286.2" stroke="#1c1c1c" stroke-width="1.05" fill="none" stroke-linejoin="round" stroke-linecap="round"/><path d="M768.2 289L799.8 289" stroke="#1c1c1c" stroke-width="0.9" fill="none"/><path d="M779.4 286.2L779.4 305" stroke="#1c1c1c" stroke-width="0.9" fill="none"/><path d="M787.3 286.2L787.3 309" stroke="#1c1c1c" stroke-width="0.9" fill="none"/><path d="M771.5 289L771.5 298.1" stroke="#1c1c1c" stroke-width="0.8" fill="none"/><path d="M796 289L796 298.1" stroke="#1c1c1c" stroke-width="0.8" fill="none"/><path d="M770.3 298.1V312Q770.3 316 773 317" stroke="#1c1c1c" stroke-width="1" fill="none" stroke-linejoin="round" stroke-linecap="round"/><path d="M799 298.1V302.3" stroke="#1c1c1c" stroke-width="1.05" fill="none" stroke-linejoin="round" stroke-linecap="round"/><path d="M775 303H779.4V310H775Z" stroke="#1c1c1c" stroke-width="1" fill="none" stroke-linejoin="round" stroke-linecap="round"/><path d="M780 312Q780.5 307.5 784 307.5Q788 307.5 788.5 312Z" stroke="#1c1c1c" stroke-width="1" fill="none" stroke-linejoin="round" stroke-linecap="round"/><path d="M789 312Q791 305 797.7 304" stroke="#1c1c1c" stroke-width="1" fill="none" stroke-linejoin="round" stroke-linecap="round"/><path d="M772 314L794 314" stroke="#1c1c1c" stroke-width="0.9" fill="none"/><path d="M773 317L790 317" stroke="#1c1c1c" stroke-width="0.9" fill="none"/><rect x="771.2" y="321" width="2.6" height="6.5" rx="0.5" stroke="#1c1c1c" stroke-width="1" fill="none"/><rect x="797.7" y="302.3" width="9.1" height="100.7" rx="0" stroke="#1c1c1c" stroke-width="1" fill="none"/><rect x="806.8" y="305" width="3.5" height="96" rx="0" stroke="#1c1c1c" stroke-width="1.05" fill="none"/><path d="M802.3 302.3L802.3 403" stroke="#1c1c1c" stroke-width="0.8" fill="none"/><rect x="791.5" y="322.6" width="6.2" height="6" rx="0.5" stroke="#1c1c1c" stroke-width="1.05" fill="none"/><path d="M793.5 322.6L793.5 328.6" stroke="#1c1c1c" stroke-width="0.7" fill="none"/><rect x="810.3" y="323" width="2.9" height="5.2" rx="0.4" stroke="#1c1c1c" stroke-width="1" fill="none"/><rect x="791.5" y="349.5" width="6.2" height="6" rx="0.5" stroke="#1c1c1c" stroke-width="1.05" fill="none"/><path d="M793.5 349.5L793.5 355.5" stroke="#1c1c1c" stroke-width="0.7" fill="none"/><rect x="810.3" y="349.9" width="2.9" height="5.2" rx="0.4" stroke="#1c1c1c" stroke-width="1" fill="none"/><rect x="791.5" y="376.4" width="6.2" height="6" rx="0.5" stroke="#1c1c1c" stroke-width="1.05" fill="none"/><path d="M793.5 376.4L793.5 382.4" stroke="#1c1c1c" stroke-width="0.7" fill="none"/><rect x="810.3" y="376.8" width="2.9" height="5.2" rx="0.4" stroke="#1c1c1c" stroke-width="1" fill="none"/><rect x="810.3" y="306.1" width="2.7" height="4.8" rx="0.4" stroke="#1c1c1c" stroke-width="0.9" fill="none"/><rect x="810.3" y="394.1" width="2.7" height="4.8" rx="0.4" stroke="#1c1c1c" stroke-width="0.9" fill="none"/><path d="M797.7 312.5Q773.5 320 772.8 352.5Q773.5 386 797.7 398" stroke="#1c1c1c" stroke-width="1" fill="none" stroke-linejoin="round" stroke-linecap="round"/><path d="M797.7 316Q776.5 323.5 776 352.5Q776.5 382.5 797.7 394.5" stroke="#1c1c1c" stroke-width="0.9" fill="none" stroke-linejoin="round" stroke-linecap="round"/><path d="M810.3 310.8Q817.5 312 818.3 320V385Q817.5 394 810.3 396" stroke="#1c1c1c" stroke-width="1" fill="none" stroke-linejoin="round" stroke-linecap="round"/><path d="M813.2 313Q815.5 315 815.5 320V385Q815.5 390 813.2 393" stroke="#1c1c1c" stroke-width="0.8" fill="none" stroke-linejoin="round" stroke-linecap="round"/><path d="M773 325V398M776 393V402" stroke="#1c1c1c" stroke-width="1" fill="none" stroke-linejoin="round" stroke-linecap="round"/><rect x="771.5" y="392" width="4.5" height="6.5" rx="0.5" stroke="#1c1c1c" stroke-width="1" fill="none"/><rect x="768" y="402" width="33" height="10" rx="0.5" stroke="#1c1c1c" stroke-width="1" fill="none"/><path d="M768 405L801 405" stroke="#1c1c1c" stroke-width="0.8" fill="none"/><path d="M779.5 402V399.5H788V402" stroke="#1c1c1c" stroke-width="1" fill="none" stroke-linejoin="round" stroke-linecap="round"/><path d="M777.5 412V420.5H789.5V412" stroke="#1c1c1c" stroke-width="1" fill="none" stroke-linejoin="round" stroke-linecap="round"/><rect x="780.2" y="420.5" width="6.6" height="3.5" rx="0.4" stroke="#1c1c1c" stroke-width="1" fill="none"/><path d="M783.5 405L783.5 420.5" stroke="#1c1c1c" stroke-width="0.8" fill="none"/><path d="M801 403L798.5 398.5M806.8 403L808 408" stroke="#1c1c1c" stroke-width="1" fill="none" stroke-linejoin="round" stroke-linecap="round"/></g>
<path d="M756.5 242.6H773.3Q775.8 242.6 775.8 245V259M770.5 272.2H756.5" stroke="#1c1c1c" stroke-width="1.1" fill="none" stroke-linejoin="round" stroke-linecap="round"/>
<path d="M756.5 242.6L756.5 272.2" stroke="#1c1c1c" stroke-width="2" fill="none"/>
<path d="M772.6 243L772.6 268" stroke="#1c1c1c" stroke-width="0.7" fill="none"/>
<rect x="751.5" y="248.7" width="4" height="15.4" rx="0.5" stroke="#1c1c1c" stroke-width="1" fill="none"/>
<path d="M775.8 244L776.8 244" stroke="#1c1c1c" stroke-width="0.9" fill="none"/>
<path d="M926.7 239.5H912.6L904.9 245.1V261M913.3 275.1H926.7" stroke="#1c1c1c" stroke-width="1.1" fill="none" stroke-linejoin="round" stroke-linecap="round"/>
<path d="M926.7 239.5L926.7 275.1" stroke="#1c1c1c" stroke-width="2" fill="none"/>
<path d="M912.6 239.5L912.6 262" stroke="#1c1c1c" stroke-width="0.8" fill="none"/>
<path d="M913.3 275.1L906.3 261.3" stroke="#1c1c1c" stroke-width="1" fill="none"/>
<path d="M914.8 275.1L907.8 261.3" stroke="#1c1c1c" stroke-width="0.6" fill="none"/>
<rect x="928.8" y="247.2" width="3.8" height="19.7" rx="0.5" stroke="#1c1c1c" stroke-width="1" fill="none"/>
<path d="M907 244.3L907 260" stroke="#1c1c1c" stroke-width="0.6" fill="none"/>
<path d="M776.8 244L905.5 244" stroke="#1c1c1c" stroke-width="1.1" fill="none"/>
<path d="M776.8 245.3L905.5 245.3" stroke="#1c1c1c" stroke-width="0.5" fill="none"/>
<path d="M799 270.4L883.6 270.4" stroke="#1c1c1c" stroke-width="1.6" fill="none"/>
<path d="M817.4 315.3A44.2 44.2 0 0 1 865.2 315.3" stroke="#1c1c1c" stroke-width="1" fill="none" stroke-linejoin="round" stroke-linecap="round"/>
<path d="M818 320.9A39.3 39.3 0 0 1 864.6 320.9" stroke="#1c1c1c" stroke-width="0.9" fill="none" stroke-linejoin="round" stroke-linecap="round"/>
<path d="M818 383.1A38.5 38.5 0 0 0 864.6 383.1" stroke="#1c1c1c" stroke-width="1" fill="none" stroke-linejoin="round" stroke-linecap="round"/>
<path d="M818.8 335.8A28 28 0 0 1 863.8 335.8" stroke="#1c1c1c" stroke-width="1.1" fill="none" stroke-linejoin="round" stroke-linecap="round"/>
<path d="M818.8 369.2A28 28 0 0 0 863.8 369.2" stroke="#1c1c1c" stroke-width="1.1" fill="none" stroke-linejoin="round" stroke-linecap="round"/>
<path d="M820.5 338A26 26 0 0 1 862.1 338" stroke="#1c1c1c" stroke-width="0.7" fill="none" stroke-linejoin="round" stroke-linecap="round"/>
<path d="M820.5 367A26 26 0 0 0 862.1 367" stroke="#1c1c1c" stroke-width="0.7" fill="none" stroke-linejoin="round" stroke-linecap="round"/>
<path d="M818.8 335.8L818.8 369.2" stroke="#1c1c1c" stroke-width="0.9" fill="none"/>
<path d="M863.8 335.8L863.8 369.2" stroke="#1c1c1c" stroke-width="0.9" fill="none"/>
<path d="M820.3 335.8L820.3 369.2" stroke="#1c1c1c" stroke-width="0.5" fill="none"/>
<path d="M862.3 335.8L862.3 369.2" stroke="#1c1c1c" stroke-width="0.5" fill="none"/>
<path d="M818.8 335.7L863.8 335.7" stroke="#1c1c1c" stroke-width="1.5" fill="none"/>
<path d="M818.8 368.9L863.8 368.9" stroke="#1c1c1c" stroke-width="1.5" fill="none"/>
<path d="M815.2 352.5L867.6 352.5" stroke="#1c1c1c" stroke-width="2.4" fill="none"/>
<path d="M815.2 350.2L867.6 350.2" stroke="#1c1c1c" stroke-width="0.7" fill="none"/>
<path d="M815.2 354.8L867.6 354.8" stroke="#1c1c1c" stroke-width="0.7" fill="none"/>
<path d="M815.2 350.2Q813.8 352.5 815.2 354.8M867.6 350.2Q869 352.5 867.6 354.8" stroke="#1c1c1c" stroke-width="0.8" fill="none" stroke-linejoin="round" stroke-linecap="round"/>
<path d="M829.5 322.6H853.2L855.3 326.2H827.4Z" stroke="#1c1c1c" stroke-width="0.9" fill="none" stroke-linejoin="round" stroke-linecap="round"/>
<circle cx="841.3" cy="319.8" r="2.9" stroke="#1c1c1c" stroke-width="0.9" fill="none"/>
<circle cx="841.3" cy="384.8" r="3.3" stroke="#1c1c1c" stroke-width="1" fill="none"/>
<path d="M840.3 308.3V302Q840.3 300.5 841.7 300.5Q843.1 300.5 843.1 302V308.3" stroke="#1c1c1c" stroke-width="0.8" fill="none" stroke-linejoin="round" stroke-linecap="round"/>
<circle cx="820.9" cy="317.6" r="2" stroke="#1c1c1c" stroke-width="0.7" fill="none"/>
<circle cx="861.7" cy="317.6" r="2" stroke="#1c1c1c" stroke-width="0.7" fill="none"/>
<path d="M801 407.4L881.5 407.4" stroke="#1c1c1c" stroke-width="1.2" fill="none"/>
<path d="M801 412H816L819 414H864L867 412H881.5" stroke="#1c1c1c" stroke-width="1" fill="none" stroke-linejoin="round" stroke-linecap="round"/>
<path d="M776 411.5V437Q776 441 780 441H901.5Q905.5 441 905.5 437V428" stroke="#1c1c1c" stroke-width="1.1" fill="none" stroke-linejoin="round" stroke-linecap="round"/>
<path d="M778.3 412V437" stroke="#1c1c1c" stroke-width="0.6" fill="none" stroke-linejoin="round" stroke-linecap="round"/>
<path d="M776 427H794.5L797.5 416L801 412" stroke="#1c1c1c" stroke-width="0.9" fill="none" stroke-linejoin="round" stroke-linecap="round"/>
<path d="M905.5 427H888L885 416L881.5 412" stroke="#1c1c1c" stroke-width="0.9" fill="none" stroke-linejoin="round" stroke-linecap="round"/>
<path d="M905.5 428Q906.5 418 914.8 409" stroke="#1c1c1c" stroke-width="0.9" fill="none" stroke-linejoin="round" stroke-linecap="round"/>
<path d="M780 441L779 446.6M902.5 441L903.5 446.6" stroke="#1c1c1c" stroke-width="0.7" fill="none" stroke-linejoin="round" stroke-linecap="round"/>
<path d="M803.7 446.6V427.4H820.8000000000001V446.6" stroke="#1c1c1c" stroke-width="1" fill="none" stroke-linejoin="round" stroke-linecap="round"/>
<path d="M805.7 446.6V429.4H818.8000000000001V446.6" stroke="#1c1c1c" stroke-width="0.6" fill="none" stroke-linejoin="round" stroke-linecap="round"/>
<path d="M808.0 446V439.5Q808.0 436.5 810.7 436.5H813.9000000000001Q816.5 436.5 816.5 439.5V446" stroke="#1c1c1c" stroke-width="1" fill="none" stroke-linejoin="round" stroke-linecap="round"/>
<path d="M809.7 446V440.5Q809.7 438.5 811.7 438.5H812.9000000000001Q814.9000000000001 438.5 814.9000000000001 440.5V446" stroke="#1c1c1c" stroke-width="0.6" fill="none" stroke-linejoin="round" stroke-linecap="round"/>
<path d="M863 446.6V427.4H880.1V446.6" stroke="#1c1c1c" stroke-width="1" fill="none" stroke-linejoin="round" stroke-linecap="round"/>
<path d="M865 446.6V429.4H878.1V446.6" stroke="#1c1c1c" stroke-width="0.6" fill="none" stroke-linejoin="round" stroke-linecap="round"/>
<path d="M867.3 446V439.5Q867.3 436.5 870 436.5H873.2Q875.8 436.5 875.8 439.5V446" stroke="#1c1c1c" stroke-width="1" fill="none" stroke-linejoin="round" stroke-linecap="round"/>
<path d="M869 446V440.5Q869 438.5 871 438.5H872.2Q874.2 438.5 874.2 440.5V446" stroke="#1c1c1c" stroke-width="0.6" fill="none" stroke-linejoin="round" stroke-linecap="round"/>
<path d="M761.4 449.2L921.6 449.2" stroke="#1c1c1c" stroke-width="0.7" fill="none"/>
<path d="M761.4 450.9L921.6 450.9" stroke="#1c1c1c" stroke-width="1.5" fill="none"/>
<path d="M761.4 442.5L761.4 451" stroke="#1c1c1c" stroke-width="0.9" fill="none"/>
<path d="M921.6 445.3L921.6 451" stroke="#1c1c1c" stroke-width="0.9" fill="none"/>
<path d="M756.4 411.8H768.5L775 418" stroke="#1c1c1c" stroke-width="1.1" fill="none" stroke-linejoin="round" stroke-linecap="round"/>
<path d="M756.4 442.5H772.7L775 438" stroke="#1c1c1c" stroke-width="1.1" fill="none" stroke-linejoin="round" stroke-linecap="round"/>
<path d="M756.4 411.8L756.4 442.5" stroke="#1c1c1c" stroke-width="2" fill="none"/>
<path d="M768.5 411.8L770.5 418" stroke="#1c1c1c" stroke-width="0.6" fill="none"/>
<rect x="751.4" y="419.5" width="4.2" height="14.8" rx="0.5" stroke="#1c1c1c" stroke-width="1" fill="none"/>
<path d="M927.2 409H914.8L911 415Q908.5 420 907.5 425" stroke="#1c1c1c" stroke-width="1.1" fill="none" stroke-linejoin="round" stroke-linecap="round"/>
<path d="M927.2 445.3H914.8L907.5 437" stroke="#1c1c1c" stroke-width="1.1" fill="none" stroke-linejoin="round" stroke-linecap="round"/>
<path d="M927.2 409L927.2 445.3" stroke="#1c1c1c" stroke-width="2" fill="none"/>
<path d="M914.8 409L914.8 445.3" stroke="#1c1c1c" stroke-width="0.8" fill="none"/>
<rect x="928.5" y="417.4" width="3.6" height="19" rx="0.5" stroke="#1c1c1c" stroke-width="1" fill="none"/>
<path d="M751.5 192.2L751.5 264" stroke="#1c1c1c" stroke-width="0.8" fill="none"/>
<path d="M932.6 192.2L932.6 266.9" stroke="#1c1c1c" stroke-width="0.8" fill="none"/>
<path d="M751.5 199.9L932.6 199.9" stroke="#1c1c1c" stroke-width="0.8" fill="none"/>
<path d="M751.5 199.9L758.5 198.6L758.5 201.2Z" fill="#1c1c1c"/>
<path d="M932.6 199.9L925.6 201.2L925.6 198.6Z" fill="#1c1c1c"/>
<text x="838" y="194.3" font-size="23.5" text-anchor="middle" font-weight="400" fill="#1a1a1a" textLength="36" lengthAdjust="spacingAndGlyphs">474</text>
<path d="M756.5 215L756.5 243" stroke="#1c1c1c" stroke-width="0.8" fill="none"/>
<path d="M926.7 214.2L926.7 240" stroke="#1c1c1c" stroke-width="0.8" fill="none"/>
<path d="M756.5 221.7L926.7 221.7" stroke="#1c1c1c" stroke-width="0.8" fill="none"/>
<path d="M756.5 221.7L763.5 220.4L763.5 223Z" fill="#1c1c1c"/>
<path d="M926.7 221.7L919.7 223L919.7 220.4Z" fill="#1c1c1c"/>
<text x="841.5" y="219.7" font-size="23.5" text-anchor="middle" font-weight="400" fill="#1a1a1a" textLength="35.5" lengthAdjust="spacingAndGlyphs">445</text>
<path d="M727 242.6L756.5 242.6" stroke="#1c1c1c" stroke-width="0.8" fill="none"/>
<path d="M727 272.2L756.5 272.2" stroke="#1c1c1c" stroke-width="0.8" fill="none"/>
<path d="M734.1 242.6L734.1 272.2" stroke="#1c1c1c" stroke-width="0.8" fill="none"/>
<path d="M734.1 242.6L735.4 249.6L732.8 249.6Z" fill="#1c1c1c"/>
<path d="M734.1 272.2L732.8 265.2L735.4 265.2Z" fill="#1c1c1c"/>
<text x="727" y="252.9" font-size="23.5" text-anchor="middle" font-weight="400" fill="#1a1a1a" transform="rotate(-90 727 252.9)" textLength="53.4" lengthAdjust="spacingAndGlyphs">DN65</text>
<path d="M926.7 239.5L963.9 239.5" stroke="#1c1c1c" stroke-width="0.8" fill="none"/>
<path d="M926.7 275.1L963.9 275.1" stroke="#1c1c1c" stroke-width="0.8" fill="none"/>
<path d="M957.6 239.5L957.6 275.1" stroke="#1c1c1c" stroke-width="0.8" fill="none"/>
<path d="M957.6 239.5L958.9 246.5L956.3 246.5Z" fill="#1c1c1c"/>
<path d="M957.6 275.1L956.3 268.1L958.9 268.1Z" fill="#1c1c1c"/>
<text x="980.8" y="255" font-size="23.5" text-anchor="middle" font-weight="400" fill="#1a1a1a" transform="rotate(-90 980.8 255)" textLength="52" lengthAdjust="spacingAndGlyphs">DN50</text>
<path d="M725.3 411.8L756.4 411.8" stroke="#1c1c1c" stroke-width="0.8" fill="none"/>
<path d="M725.3 442.5L761.4 442.5" stroke="#1c1c1c" stroke-width="0.8" fill="none"/>
<path d="M732.7 411.8L732.7 442.5" stroke="#1c1c1c" stroke-width="0.8" fill="none"/>
<path d="M732.7 411.8L734 418.8L731.4 418.8Z" fill="#1c1c1c"/>
<path d="M732.7 442.5L731.4 435.5L734 435.5Z" fill="#1c1c1c"/>
<text x="723" y="428.7" font-size="23.5" text-anchor="middle" font-weight="400" fill="#1a1a1a" transform="rotate(-90 723 428.7)" textLength="52.1" lengthAdjust="spacingAndGlyphs">DN65</text>
<path d="M927.2 409L970.4 409" stroke="#1c1c1c" stroke-width="0.8" fill="none"/>
<path d="M927.2 445.3L970.4 445.3" stroke="#1c1c1c" stroke-width="0.8" fill="none"/>
<path d="M962.9 409L962.9 445.3" stroke="#1c1c1c" stroke-width="0.8" fill="none"/>
<path d="M962.9 409L964.2 416L961.6 416Z" fill="#1c1c1c"/>
<path d="M962.9 445.3L961.6 438.3L964.2 438.3Z" fill="#1c1c1c"/>
<text x="987.2" y="420.8" font-size="23.5" text-anchor="middle" font-weight="400" fill="#1a1a1a" transform="rotate(-90 987.2 420.8)" textLength="52.1" lengthAdjust="spacingAndGlyphs">DN50</text>
<path d="M132.8 645.1H312.2V804.1H132.8Z" stroke="#1c1c1c" stroke-width="1" fill="none" stroke-linejoin="round" stroke-linecap="round"/>
<path d="M221.9 645.1L221.9 804.1" stroke="#1c1c1c" stroke-width="0.8" fill="none"/>
<path d="M224.5 645.1L224.5 804.1" stroke="#1c1c1c" stroke-width="0.8" fill="none"/>
<path d="M281.5 645.1L281.5 804.1" stroke="#1c1c1c" stroke-width="0.8" fill="none"/>
<path d="M284.3 645.1L284.3 804.1" stroke="#1c1c1c" stroke-width="0.8" fill="none"/>
<path d="M224.5 675.2L281.5 675.2" stroke="#1c1c1c" stroke-width="0.8" fill="none"/>
<path d="M224.5 773.4L281.5 773.4" stroke="#1c1c1c" stroke-width="0.8" fill="none"/>
<circle cx="139.5" cy="651.9" r="2.6" stroke="#1c1c1c" stroke-width="0.8" fill="none"/>
<circle cx="303.3" cy="651.9" r="2.6" stroke="#1c1c1c" stroke-width="0.8" fill="none"/>
<circle cx="139.5" cy="796.6" r="2.6" stroke="#1c1c1c" stroke-width="0.8" fill="none"/>
<circle cx="303.3" cy="796.6" r="2.6" stroke="#1c1c1c" stroke-width="0.8" fill="none"/>
<rect x="133.3" y="679.4" width="91" height="90.4" fill="#fff"/>
<rect x="123.9" y="679.4" width="100.2" height="10.3" rx="1" stroke="#1c1c1c" stroke-width="1.3" fill="#fff"/>
<path d="M123.9 681.8L224.1 681.8" stroke="#1c1c1c" stroke-width="0.6" fill="none"/>
<path d="M133 689.7V693.5H219.6V689.7" stroke="#1c1c1c" stroke-width="0.9" fill="none" stroke-linejoin="round" stroke-linecap="round"/>
<rect x="126.5" y="676.6" width="4" height="2.8" rx="0.4" stroke="#1c1c1c" stroke-width="0.7" fill="none"/>
<rect x="126.5" y="689.7" width="4" height="2.6" rx="0.4" stroke="#1c1c1c" stroke-width="0.7" fill="none"/>
<rect x="135.5" y="676.6" width="4" height="2.8" rx="0.4" stroke="#1c1c1c" stroke-width="0.7" fill="none"/>
<rect x="135.5" y="689.7" width="4" height="2.6" rx="0.4" stroke="#1c1c1c" stroke-width="0.7" fill="none"/>
<rect x="210" y="676.6" width="4" height="2.8" rx="0.4" stroke="#1c1c1c" stroke-width="0.7" fill="none"/>
<rect x="210" y="689.7" width="4" height="2.6" rx="0.4" stroke="#1c1c1c" stroke-width="0.7" fill="none"/>
<rect x="216.5" y="676.6" width="4" height="2.8" rx="0.4" stroke="#1c1c1c" stroke-width="0.7" fill="none"/>
<rect x="216.5" y="689.7" width="4" height="2.6" rx="0.4" stroke="#1c1c1c" stroke-width="0.7" fill="none"/>
<path d="M136 679.4Q139 669 150 663.5L161 659.5" stroke="#1c1c1c" stroke-width="1" fill="none" stroke-linejoin="round" stroke-linecap="round"/>
<path d="M140 679.4Q143 671 152 666.5" stroke="#1c1c1c" stroke-width="0.7" fill="none" stroke-linejoin="round" stroke-linecap="round"/>
<path d="M214 679.4Q210 669 199 663.5L188.5 659.5" stroke="#1c1c1c" stroke-width="1" fill="none" stroke-linejoin="round" stroke-linecap="round"/>
<path d="M210 679.4Q207 671 198 666.5" stroke="#1c1c1c" stroke-width="0.7" fill="none" stroke-linejoin="round" stroke-linecap="round"/>
<circle cx="155.5" cy="668.3" r="3.3" stroke="#1c1c1c" stroke-width="1.9" fill="#fff"/>
<circle cx="155.5" cy="668.3" r="1.4" stroke="#1c1c1c" stroke-width="1" fill="#333"/>
<path d="M152.5 672.5V679.4M158.5 672.5V679.4" stroke="#1c1c1c" stroke-width="0.7" fill="none" stroke-linejoin="round" stroke-linecap="round"/>
<circle cx="192.9" cy="668.3" r="3.3" stroke="#1c1c1c" stroke-width="1.9" fill="#fff"/>
<circle cx="192.9" cy="668.3" r="1.4" stroke="#1c1c1c" stroke-width="1" fill="#333"/>
<path d="M189.9 672.5V679.4M195.9 672.5V679.4" stroke="#1c1c1c" stroke-width="0.7" fill="none" stroke-linejoin="round" stroke-linecap="round"/>
<path d="M136.2 693.5V724.6M139 697V724.6" stroke="#1c1c1c" stroke-width="0.9" fill="none" stroke-linejoin="round" stroke-linecap="round"/>
<path d="M139 697Q140 695 143 694.8H160" stroke="#1c1c1c" stroke-width="0.7" fill="none" stroke-linejoin="round" stroke-linecap="round"/>
<path d="M156.2 693.5V724.6" stroke="#1c1c1c" stroke-width="0.9" fill="none" stroke-linejoin="round" stroke-linecap="round"/>
<path d="M187.4 697.5H200Q213 697 216.5 693.5" stroke="#1c1c1c" stroke-width="0.8" fill="none" stroke-linejoin="round" stroke-linecap="round"/>
<path d="M187.4 700.5H199Q210 700 213 695" stroke="#1c1c1c" stroke-width="0.7" fill="none" stroke-linejoin="round" stroke-linecap="round"/>
<rect x="213.8" y="673.5" width="5.7" height="5.9" rx="0.4" stroke="#1c1c1c" stroke-width="0.8" fill="none"/>
<rect x="215" y="671" width="3.3" height="2.5" rx="0.3" stroke="#1c1c1c" stroke-width="0.7" fill="none"/>
<g transform="translate(0,1449.2) scale(1,-1)"><rect x="123.9" y="679.4" width="100.2" height="10.3" rx="1" stroke="#1c1c1c" stroke-width="1.3" fill="#fff"/><path d="M123.9 681.8L224.1 681.8" stroke="#1c1c1c" stroke-width="0.6" fill="none"/><path d="M133 689.7V693.5H219.6V689.7" stroke="#1c1c1c" stroke-width="0.9" fill="none" stroke-linejoin="round" stroke-linecap="round"/><rect x="126.5" y="676.6" width="4" height="2.8" rx="0.4" stroke="#1c1c1c" stroke-width="0.7" fill="none"/><rect x="126.5" y="689.7" width="4" height="2.6" rx="0.4" stroke="#1c1c1c" stroke-width="0.7" fill="none"/><rect x="135.5" y="676.6" width="4" height="2.8" rx="0.4" stroke="#1c1c1c" stroke-width="0.7" fill="none"/><rect x="135.5" y="689.7" width="4" height="2.6" rx="0.4" stroke="#1c1c1c" stroke-width="0.7" fill="none"/><rect x="210" y="676.6" width="4" height="2.8" rx="0.4" stroke="#1c1c1c" stroke-width="0.7" fill="none"/><rect x="210" y="689.7" width="4" height="2.6" rx="0.4" stroke="#1c1c1c" stroke-width="0.7" fill="none"/><rect x="216.5" y="676.6" width="4" height="2.8" rx="0.4" stroke="#1c1c1c" stroke-width="0.7" fill="none"/><rect x="216.5" y="689.7" width="4" height="2.6" rx="0.4" stroke="#1c1c1c" stroke-width="0.7" fill="none"/><path d="M136 679.4Q139 669 150 663.5L161 659.5" stroke="#1c1c1c" stroke-width="1" fill="none" stroke-linejoin="round" stroke-linecap="round"/><path d="M140 679.4Q143 671 152 666.5" stroke="#1c1c1c" stroke-width="0.7" fill="none" stroke-linejoin="round" stroke-linecap="round"/><path d="M214 679.4Q210 669 199 663.5L188.5 659.5" stroke="#1c1c1c" stroke-width="1" fill="none" stroke-linejoin="round" stroke-linecap="round"/><path d="M210 679.4Q207 671 198 666.5" stroke="#1c1c1c" stroke-width="0.7" fill="none" stroke-linejoin="round" stroke-linecap="round"/><circle cx="155.5" cy="668.3" r="3.3" stroke="#1c1c1c" stroke-width="1.9" fill="#fff"/><circle cx="155.5" cy="668.3" r="1.4" stroke="#1c1c1c" stroke-width="1" fill="#333"/><path d="M152.5 672.5V679.4M158.5 672.5V679.4" stroke="#1c1c1c" stroke-width="0.7" fill="none" stroke-linejoin="round" stroke-linecap="round"/><circle cx="192.9" cy="668.3" r="3.3" stroke="#1c1c1c" stroke-width="1.9" fill="#fff"/><circle cx="192.9" cy="668.3" r="1.4" stroke="#1c1c1c" stroke-width="1" fill="#333"/><path d="M189.9 672.5V679.4M195.9 672.5V679.4" stroke="#1c1c1c" stroke-width="0.7" fill="none" stroke-linejoin="round" stroke-linecap="round"/><path d="M136.2 693.5V724.6M139 697V724.6" stroke="#1c1c1c" stroke-width="0.9" fill="none" stroke-linejoin="round" stroke-linecap="round"/><path d="M139 697Q140 695 143 694.8H160" stroke="#1c1c1c" stroke-width="0.7" fill="none" stroke-linejoin="round" stroke-linecap="round"/><path d="M156.2 693.5V724.6" stroke="#1c1c1c" stroke-width="0.9" fill="none" stroke-linejoin="round" stroke-linecap="round"/><path d="M187.4 697.5H200Q213 697 216.5 693.5" stroke="#1c1c1c" stroke-width="0.8" fill="none" stroke-linejoin="round" stroke-linecap="round"/><path d="M187.4 700.5H199Q210 700 213 695" stroke="#1c1c1c" stroke-width="0.7" fill="none" stroke-linejoin="round" stroke-linecap="round"/><rect x="213.8" y="673.5" width="5.7" height="5.9" rx="0.4" stroke="#1c1c1c" stroke-width="0.8" fill="none"/><rect x="215" y="671" width="3.3" height="2.5" rx="0.3" stroke="#1c1c1c" stroke-width="0.7" fill="none"/></g>
<path d="M132.8 693.5L132.8 755.7" stroke="#1c1c1c" stroke-width="1" fill="none"/>
<path d="M219.6 693.5L219.6 755.7" stroke="#1c1c1c" stroke-width="1" fill="none"/>
<circle cx="145.7" cy="724.6" r="6.6" stroke="#1c1c1c" stroke-width="0.9" fill="none"/>
<rect x="187.4" y="710.6" width="14.9" height="28" rx="0" stroke="#1c1c1c" stroke-width="1" fill="none"/>
<rect x="187.4" y="713.2" width="12.1" height="22.8" rx="0" stroke="#1c1c1c" stroke-width="0.7" fill="none"/>
<rect x="216.5" y="718" width="3.1" height="13" rx="0.3" stroke="#1c1c1c" stroke-width="0.8" fill="none"/>
<rect x="162.2" y="659" width="25.2" height="131" rx="0" stroke="#1c1c1c" stroke-width="1.2" fill="#fff"/>
<path d="M164 659L164 790" stroke="#1c1c1c" stroke-width="0.5" fill="none"/>
<path d="M185.6 659L185.6 790" stroke="#1c1c1c" stroke-width="0.5" fill="none"/>
<rect x="157.3" y="654.5" width="34.5" height="5.5" rx="0.8" stroke="#1c1c1c" stroke-width="1" fill="#fff"/>
<rect x="157.3" y="788.5" width="34.5" height="5.1" rx="0.8" stroke="#1c1c1c" stroke-width="1" fill="#fff"/>
<rect x="159.5" y="638.5" width="30.1" height="16" rx="1.5" stroke="#1c1c1c" stroke-width="1.1" fill="#fff"/>
<path d="M159.5 641.5L189.6 641.5" stroke="#1c1c1c" stroke-width="0.6" fill="none"/>
<path d="M161.3 641.5L161.3 654.5" stroke="#1c1c1c" stroke-width="0.5" fill="none"/>
<path d="M187.8 641.5L187.8 654.5" stroke="#1c1c1c" stroke-width="0.5" fill="none"/>
<rect x="166.7" y="634" width="15.8" height="4.5" rx="1" stroke="#1c1c1c" stroke-width="1" fill="#fff"/>
<path d="M168 636.2L181.2 636.2" stroke="#1c1c1c" stroke-width="0.6" fill="none"/>
<rect x="157.3" y="793.6" width="34.5" height="17.2" rx="2" stroke="#1c1c1c" stroke-width="1.1" fill="#fff"/>
<path d="M157.3 807.5L191.8 807.5" stroke="#1c1c1c" stroke-width="0.6" fill="none"/>
<path d="M159.2 793.6L159.2 807.5" stroke="#1c1c1c" stroke-width="0.5" fill="none"/>
<path d="M190 793.6L190 807.5" stroke="#1c1c1c" stroke-width="0.5" fill="none"/>
<rect x="164.4" y="810.8" width="18.5" height="4" rx="1" stroke="#1c1c1c" stroke-width="1" fill="#fff"/>
<path d="M166 812.7L181.5 812.7" stroke="#1c1c1c" stroke-width="0.6" fill="none"/>
<rect x="224.8" y="681.3" width="9.6" height="86.8" rx="3.5" stroke="#1c1c1c" stroke-width="1.1" fill="#fff"/>
<path d="M228 684.5L228 765" stroke="#1c1c1c" stroke-width="0.7" fill="none"/>
<circle cx="231.3" cy="684.6" r="3.5" stroke="#1c1c1c" stroke-width="2" fill="none"/>
<circle cx="231.3" cy="764.6" r="3.5" stroke="#1c1c1c" stroke-width="2" fill="none"/>
<rect x="219.4" y="720.9" width="2.8" height="6.8" rx="0.3" stroke="#1c1c1c" stroke-width="0.8" fill="none"/>
<path d="M234.4 687.4L245 692.7H267.1" stroke="#1c1c1c" stroke-width="0.9" fill="none" stroke-linejoin="round" stroke-linecap="round"/>
<path d="M234.4 690.5L245 695.8H267.1" stroke="#1c1c1c" stroke-width="0.7" fill="none" stroke-linejoin="round" stroke-linecap="round"/>
<path d="M234.4 693.5L244 697.3H267.1" stroke="#1c1c1c" stroke-width="1.5" fill="none" stroke-linejoin="round" stroke-linecap="round"/>
<path d="M234.4 700.4L267.1 697.3" stroke="#1c1c1c" stroke-width="0.8" fill="none" stroke-linejoin="round" stroke-linecap="round"/>
<path d="M234.4 708.7H248L267.1 703.4" stroke="#1c1c1c" stroke-width="0.9" fill="none" stroke-linejoin="round" stroke-linecap="round"/>
<path d="M248 708.7L248 724.6" stroke="#1c1c1c" stroke-width="0.8" fill="none"/>
<rect x="264.5" y="682.8" width="2.6" height="5.4" rx="0.3" stroke="#1c1c1c" stroke-width="0.7" fill="none"/>
<rect x="264.5" y="701.9" width="2.6" height="5.3" rx="0.3" stroke="#1c1c1c" stroke-width="0.7" fill="none"/>
<rect x="298.3" y="682.8" width="3" height="5.4" rx="0.3" stroke="#1c1c1c" stroke-width="0.7" fill="none"/>
<rect x="298.3" y="701.9" width="3" height="5.3" rx="0.3" stroke="#1c1c1c" stroke-width="0.7" fill="none"/>
<path d="M301.3 698.8L315.1 689.7" stroke="#1c1c1c" stroke-width="0.9" fill="none" stroke-linejoin="round" stroke-linecap="round"/>
<g transform="translate(0,1449.2) scale(1,-1)"><path d="M234.4 687.4L245 692.7H267.1" stroke="#1c1c1c" stroke-width="0.9" fill="none" stroke-linejoin="round" stroke-linecap="round"/><path d="M234.4 690.5L245 695.8H267.1" stroke="#1c1c1c" stroke-width="0.7" fill="none" stroke-linejoin="round" stroke-linecap="round"/><path d="M234.4 693.5L244 697.3H267.1" stroke="#1c1c1c" stroke-width="1.5" fill="none" stroke-linejoin="round" stroke-linecap="round"/><path d="M234.4 700.4L267.1 697.3" stroke="#1c1c1c" stroke-width="0.8" fill="none" stroke-linejoin="round" stroke-linecap="round"/><path d="M234.4 708.7H248L267.1 703.4" stroke="#1c1c1c" stroke-width="0.9" fill="none" stroke-linejoin="round" stroke-linecap="round"/><path d="M248 708.7L248 724.6" stroke="#1c1c1c" stroke-width="0.8" fill="none"/><rect x="264.5" y="682.8" width="2.6" height="5.4" rx="0.3" stroke="#1c1c1c" stroke-width="0.7" fill="none"/><rect x="264.5" y="701.9" width="2.6" height="5.3" rx="0.3" stroke="#1c1c1c" stroke-width="0.7" fill="none"/><rect x="298.3" y="682.8" width="3" height="5.4" rx="0.3" stroke="#1c1c1c" stroke-width="0.7" fill="none"/><rect x="298.3" y="701.9" width="3" height="5.3" rx="0.3" stroke="#1c1c1c" stroke-width="0.7" fill="none"/><path d="M301.3 698.8L315.1 689.7" stroke="#1c1c1c" stroke-width="0.9" fill="none" stroke-linejoin="round" stroke-linecap="round"/></g>
<path d="M234.4 708.7L234.4 740.5" stroke="#1c1c1c" stroke-width="0.8" fill="none"/>
<rect x="234.4" y="721.7" width="5.3" height="5.5" rx="0.4" stroke="#1c1c1c" stroke-width="0.8" fill="none"/>
<rect x="267.1" y="680.1" width="9.9" height="88.3" rx="0.8" stroke="#1c1c1c" stroke-width="1.1" fill="#fff"/>
<path d="M273.2 680.1L273.2 768.4" stroke="#1c1c1c" stroke-width="0.7" fill="none"/>
<rect x="277" y="682.8" width="11.4" height="83" rx="0" stroke="#1c1c1c" stroke-width="0.9" fill="#fff"/>
<rect x="288.4" y="680.1" width="9.9" height="88.3" rx="0.8" stroke="#1c1c1c" stroke-width="1.1" fill="#fff"/>
<path d="M293 680.1L293 768.4" stroke="#1c1c1c" stroke-width="0.7" fill="none"/>
<rect x="315.1" y="689" width="4.6" height="70.8" rx="0" stroke="#1c1c1c" stroke-width="1" fill="#fff"/>
<path d="M301.3 698.8L301.3 751.3" stroke="#1c1c1c" stroke-width="0.8" fill="none"/>
<path d="M323 685.2H400.5Q403.4 685.2 403.4 688V760Q403.4 762.9 400.5 762.9H323L319.7 760V688.2Z" stroke="#1c1c1c" stroke-width="1.2" fill="#fff" stroke-linejoin="round" stroke-linecap="round"/>
<path d="M322 686.6L401 686.6" stroke="#1c1c1c" stroke-width="1.8" fill="none"/>
<path d="M322 761.5L401 761.5" stroke="#1c1c1c" stroke-width="1.8" fill="none"/>
<path d="M312.8 718.7L403.4 718.7" stroke="#1c1c1c" stroke-width="1.1" fill="none"/>
<path d="M312.8 730.2L403.4 730.2" stroke="#1c1c1c" stroke-width="1.1" fill="none"/>
<rect x="312.8" y="718.7" width="3" height="11.5" rx="0" stroke="#1c1c1c" stroke-width="0.8" fill="none"/>
<path d="M314.3 718.7L314.3 730.2" stroke="#1c1c1c" stroke-width="0.5" fill="none"/>
<path d="M322.5 688.7L401 688.7" stroke="#1c1c1c" stroke-width="0.6" fill="none"/>
<path d="M322.5 692.5L401 692.5" stroke="#1c1c1c" stroke-width="0.6" fill="none"/>
<path d="M321.5 690.6L402 690.6" stroke="#1c1c1c" stroke-width="1.5" fill="none"/>
<path d="M322.5 688.7L321 690.6L322.5 692.5M401 688.7L402.5 690.6L401 692.5" stroke="#1c1c1c" stroke-width="0.5" fill="none" stroke-linejoin="round" stroke-linecap="round"/>
<path d="M322.5 694.85L401 694.85" stroke="#1c1c1c" stroke-width="0.6" fill="none"/>
<path d="M322.5 698.65L401 698.65" stroke="#1c1c1c" stroke-width="0.6" fill="none"/>
<path d="M321.5 696.75L402 696.75" stroke="#444" stroke-width="1" fill="none"/>
<path d="M322.5 694.85L321 696.75L322.5 698.65M401 694.85L402.5 696.75L401 698.65" stroke="#1c1c1c" stroke-width="0.5" fill="none" stroke-linejoin="round" stroke-linecap="round"/>
<path d="M322.5 701L401 701" stroke="#1c1c1c" stroke-width="0.6" fill="none"/>
<path d="M322.5 704.8L401 704.8" stroke="#1c1c1c" stroke-width="0.6" fill="none"/>
<path d="M321.5 702.9L402 702.9" stroke="#1c1c1c" stroke-width="1.5" fill="none"/>
<path d="M322.5 701L321 702.9L322.5 704.8M401 701L402.5 702.9L401 704.8" stroke="#1c1c1c" stroke-width="0.5" fill="none" stroke-linejoin="round" stroke-linecap="round"/>
<path d="M322.5 707.15L401 707.15" stroke="#1c1c1c" stroke-width="0.6" fill="none"/>
<path d="M322.5 710.95L401 710.95" stroke="#1c1c1c" stroke-width="0.6" fill="none"/>
<path d="M321.5 709.05L402 709.05" stroke="#444" stroke-width="1" fill="none"/>
<path d="M322.5 707.15L321 709.05L322.5 710.95M401 707.15L402.5 709.05L401 710.95" stroke="#1c1c1c" stroke-width="0.5" fill="none" stroke-linejoin="round" stroke-linecap="round"/>
<path d="M322.5 713.3L401 713.3" stroke="#1c1c1c" stroke-width="0.6" fill="none"/>
<path d="M322.5 717.1L401 717.1" stroke="#1c1c1c" stroke-width="0.6" fill="none"/>
<path d="M321.5 715.2L402 715.2" stroke="#1c1c1c" stroke-width="1.5" fill="none"/>
<path d="M322.5 713.3L321 715.2L322.5 717.1M401 713.3L402.5 715.2L401 717.1" stroke="#1c1c1c" stroke-width="0.5" fill="none" stroke-linejoin="round" stroke-linecap="round"/>
<path d="M322.5 731.8L401 731.8" stroke="#1c1c1c" stroke-width="0.6" fill="none"/>
<path d="M322.5 735.6L401 735.6" stroke="#1c1c1c" stroke-width="0.6" fill="none"/>
<path d="M321.5 733.7L402 733.7" stroke="#1c1c1c" stroke-width="1.5" fill="none"/>
<path d="M322.5 731.8L321 733.7L322.5 735.6M401 731.8L402.5 733.7L401 735.6" stroke="#1c1c1c" stroke-width="0.5" fill="none" stroke-linejoin="round" stroke-linecap="round"/>
<path d="M322.5 737.95L401 737.95" stroke="#1c1c1c" stroke-width="0.6" fill="none"/>
<path d="M322.5 741.75L401 741.75" stroke="#1c1c1c" stroke-width="0.6" fill="none"/>
<path d="M321.5 739.85L402 739.85" stroke="#444" stroke-width="1" fill="none"/>
<path d="M322.5 737.95L321 739.85L322.5 741.75M401 737.95L402.5 739.85L401 741.75" stroke="#1c1c1c" stroke-width="0.5" fill="none" stroke-linejoin="round" stroke-linecap="round"/>
<path d="M322.5 744.1L401 744.1" stroke="#1c1c1c" stroke-width="0.6" fill="none"/>
<path d="M322.5 747.9L401 747.9" stroke="#1c1c1c" stroke-width="0.6" fill="none"/>
<path d="M321.5 746L402 746" stroke="#1c1c1c" stroke-width="1.5" fill="none"/>
<path d="M322.5 744.1L321 746L322.5 747.9M401 744.1L402.5 746L401 747.9" stroke="#1c1c1c" stroke-width="0.5" fill="none" stroke-linejoin="round" stroke-linecap="round"/>
<path d="M322.5 750.25L401 750.25" stroke="#1c1c1c" stroke-width="0.6" fill="none"/>
<path d="M322.5 754.05L401 754.05" stroke="#1c1c1c" stroke-width="0.6" fill="none"/>
<path d="M321.5 752.15L402 752.15" stroke="#444" stroke-width="1" fill="none"/>
<path d="M322.5 750.25L321 752.15L322.5 754.05M401 750.25L402.5 752.15L401 754.05" stroke="#1c1c1c" stroke-width="0.5" fill="none" stroke-linejoin="round" stroke-linecap="round"/>
<path d="M322.5 756.4L401 756.4" stroke="#1c1c1c" stroke-width="0.6" fill="none"/>
<path d="M322.5 760.2L401 760.2" stroke="#1c1c1c" stroke-width="0.6" fill="none"/>
<path d="M321.5 758.3L402 758.3" stroke="#1c1c1c" stroke-width="1.5" fill="none"/>
<path d="M322.5 756.4L321 758.3L322.5 760.2M401 756.4L402.5 758.3L401 760.2" stroke="#1c1c1c" stroke-width="0.5" fill="none" stroke-linejoin="round" stroke-linecap="round"/>
<path d="M355.5 724.4Q358 721 361.6 720.8Q365.5 721 367.8 724.4Q365.5 727.8 361.6 728.2Q358 727.8 355.5 724.4Z" stroke="#1c1c1c" stroke-width="1.1" fill="none" stroke-linejoin="round" stroke-linecap="round"/>
<path d="M355.5 724.4L367.8 724.4" stroke="#1c1c1c" stroke-width="1" fill="none"/>
<path d="M361.6 720.8L361.6 728.2" stroke="#1c1c1c" stroke-width="0.6" fill="none"/>
<path d="M403.4 684.5H421.5Q432.8 684.5 432.8 696V753Q432.8 764.4 421.5 764.4H403.4Z" stroke="#1c1c1c" stroke-width="1.1" fill="#fff" stroke-linejoin="round" stroke-linecap="round"/>
<path d="M420.7 684.5L420.7 764.4" stroke="#1c1c1c" stroke-width="0.8" fill="none"/>
<circle cx="407" cy="724.4" r="1.3" stroke="#1c1c1c" stroke-width="0.8" fill="#1c1c1c"/>
<rect x="342.5" y="762.9" width="39.6" height="10.6" rx="0" stroke="#1c1c1c" stroke-width="1" fill="none"/>
<path d="M344.3 762.9L344.3 773.5" stroke="#1c1c1c" stroke-width="0.5" fill="none"/>
<path d="M380.3 762.9L380.3 773.5" stroke="#1c1c1c" stroke-width="0.5" fill="none"/>
<path d="M340.5 773.5H384.5Q386.2 773.5 386.2 775.5V790Q386.2 793.3 382.5 793.3H342.5Q338.7 793.3 338.7 790V775.5Q338.7 773.5 340.5 773.5Z" stroke="#1c1c1c" stroke-width="1.2" fill="none" stroke-linejoin="round" stroke-linecap="round"/>
<path d="M338.7 783L386.2 783" stroke="#1c1c1c" stroke-width="2" fill="none"/>
<path d="M338.7 790.3L386.2 790.3" stroke="#1c1c1c" stroke-width="0.8" fill="none"/>
<path d="M338.7 776.5L386.2 776.5" stroke="#1c1c1c" stroke-width="0.6" fill="none"/>
<path d="M124.2 571.6L124.2 686" stroke="#1c1c1c" stroke-width="0.8" fill="none"/>
<path d="M432.8 569.3L432.8 693" stroke="#1c1c1c" stroke-width="0.8" fill="none"/>
<path d="M124.2 579.3L432.7 579.3" stroke="#1c1c1c" stroke-width="0.8" fill="none"/>
<path d="M124.2 579.3L131.2 578L131.2 580.6Z" fill="#1c1c1c"/>
<path d="M432.7 579.3L425.7 580.6L425.7 578Z" fill="#1c1c1c"/>
<text x="282.5" y="572.7" font-size="23.5" text-anchor="middle" font-weight="400" fill="#1a1a1a" textLength="35.7" lengthAdjust="spacingAndGlyphs">810</text>
<path d="M133 602L133 645.1" stroke="#1c1c1c" stroke-width="0.8" fill="none"/>
<path d="M311.8 602L311.8 645.1" stroke="#1c1c1c" stroke-width="0.8" fill="none"/>
<path d="M133 609.8L311.8 609.8" stroke="#1c1c1c" stroke-width="0.8" fill="none"/>
<path d="M133 609.8L140 608.5L140 611.1Z" fill="#1c1c1c"/>
<path d="M311.8 609.8L304.8 611.1L304.8 608.5Z" fill="#1c1c1c"/>
<text x="207.6" y="606.6" font-size="23.5" text-anchor="middle" font-weight="400" fill="#1a1a1a" textLength="35.7" lengthAdjust="spacingAndGlyphs">470</text>
<path d="M89 645.1L132.8 645.1" stroke="#1c1c1c" stroke-width="0.8" fill="none"/>
<path d="M89 803.6L132.8 803.6" stroke="#1c1c1c" stroke-width="0.8" fill="none"/>
<path d="M96.8 645.1L96.8 803.6" stroke="#1c1c1c" stroke-width="0.8" fill="none"/>
<path d="M96.8 645.1L98.1 652.1L95.5 652.1Z" fill="#1c1c1c"/>
<path d="M96.8 803.6L95.5 796.6L98.1 796.6Z" fill="#1c1c1c"/>
<text x="90.2" y="719.8" font-size="23.5" text-anchor="middle" font-weight="400" fill="#1a1a1a" transform="rotate(-90 90.2 719.8)" textLength="33.7" lengthAdjust="spacingAndGlyphs">420</text>
<path d="M580.4 800.2L978.6 800.2" stroke="#1c1c1c" stroke-width="0.9" fill="none"/>
<path d="M644.5 799.2L735.1 799.2" stroke="#1c1c1c" stroke-width="1.6" fill="none"/>
<circle cx="686.6" cy="696.2" r="50.5" stroke="#1c1c1c" stroke-width="1.1" fill="#fff"/>
<circle cx="686.6" cy="696.2" r="39.1" stroke="#1c1c1c" stroke-width="0.9" fill="none"/>
<circle cx="732.6" cy="696.2" r="2.3" stroke="#1c1c1c" stroke-width="2.1" fill="#fff"/>
<circle cx="723.81" cy="723.24" r="2.3" stroke="#1c1c1c" stroke-width="2.1" fill="#fff"/>
<circle cx="700.81" cy="739.95" r="2.3" stroke="#1c1c1c" stroke-width="2.1" fill="#fff"/>
<circle cx="672.39" cy="739.95" r="2.3" stroke="#1c1c1c" stroke-width="2.1" fill="#fff"/>
<circle cx="649.39" cy="723.24" r="2.3" stroke="#1c1c1c" stroke-width="2.1" fill="#fff"/>
<circle cx="640.6" cy="696.2" r="2.3" stroke="#1c1c1c" stroke-width="2.1" fill="#fff"/>
<circle cx="649.39" cy="669.16" r="2.3" stroke="#1c1c1c" stroke-width="2.1" fill="#fff"/>
<circle cx="672.39" cy="652.45" r="2.3" stroke="#1c1c1c" stroke-width="2.1" fill="#fff"/>
<circle cx="700.81" cy="652.45" r="2.3" stroke="#1c1c1c" stroke-width="2.1" fill="#fff"/>
<circle cx="723.81" cy="669.16" r="2.3" stroke="#1c1c1c" stroke-width="2.1" fill="#fff"/>
<path d="M676.4 648V668Q676.6 676 681 684.5H692.2Q696.5 676 696.7 668V648Z" stroke="#1c1c1c" stroke-width="1" fill="#fff" stroke-linejoin="round" stroke-linecap="round"/>
<path d="M681 708Q678 716 673.4 731.1H700Q695.5 716 692.2 708Z" stroke="#1c1c1c" stroke-width="1" fill="#fff" stroke-linejoin="round" stroke-linecap="round"/>
<path d="M676.4 725.7L696.7 725.7" stroke="#1c1c1c" stroke-width="0.8" fill="none"/>
<path d="M686.6 661.3L688.6 664H687.6V667.4H685.6V664H684.6Z" stroke="#1c1c1c" stroke-width="0.7" fill="none" stroke-linejoin="round" stroke-linecap="round"/>
<circle cx="686.6" cy="696.2" r="13.3" stroke="#1c1c1c" stroke-width="1.3" fill="#fff"/>
<circle cx="686.6" cy="696.2" r="10.4" stroke="#1c1c1c" stroke-width="1.1" fill="none"/>
<path d="M685.2 686.0V706.4000000000001M688.0 686.0V706.4000000000001M676.4 694.8000000000001H696.8000000000001M676.4 697.6H696.8000000000001" stroke="#1c1c1c" stroke-width="0.9" fill="none" stroke-linejoin="round" stroke-linecap="round"/>
<circle cx="686.6" cy="724.7" r="4.2" stroke="#1c1c1c" stroke-width="1.5" fill="#fff"/>
<circle cx="686.6" cy="724.7" r="1.8" stroke="#1c1c1c" stroke-width="0.9" fill="none"/>
<path d="M672.6 634V612M700.8 634V612" stroke="#1c1c1c" stroke-width="1" fill="none" stroke-linejoin="round" stroke-linecap="round"/>
<rect x="663.5" y="632.7" width="46" height="15.3" rx="1.5" stroke="#1c1c1c" stroke-width="1.2" fill="#fff"/>
<path d="M663.5 639.3L709.5 639.3" stroke="#1c1c1c" stroke-width="0.7" fill="none"/>
<path d="M663.5 645.4L709.5 645.4" stroke="#1c1c1c" stroke-width="0.7" fill="none"/>
<path d="M676.4 632.7L676.4 648" stroke="#1c1c1c" stroke-width="0.8" fill="none"/>
<path d="M696.7 632.7L696.7 648" stroke="#1c1c1c" stroke-width="0.8" fill="none"/>
<rect x="664.7" y="629.4" width="7.2" height="3.3" rx="0.5" stroke="#1c1c1c" stroke-width="0.9" fill="none"/>
<rect x="701.3" y="629.4" width="7.1" height="3.3" rx="0.5" stroke="#1c1c1c" stroke-width="0.9" fill="none"/>
<path d="M672.6 634L700.8 634" stroke="#1c1c1c" stroke-width="0.9" fill="none"/>
<circle cx="686.6" cy="606.5" r="18.2" stroke="#1c1c1c" stroke-width="1.5" fill="#fff"/>
<circle cx="686.6" cy="606.5" r="16.6" stroke="#1c1c1c" stroke-width="0.6" fill="none"/>
<rect x="676.4" y="596.6" width="20.3" height="19.5" rx="0" stroke="#1c1c1c" stroke-width="1.6" fill="none"/>
<circle cx="686.6" cy="606.5" r="1.9" stroke="#1c1c1c" stroke-width="0.5" fill="#1c1c1c"/>
<path d="M672.6 618V634M700.8 618V634" stroke="#1c1c1c" stroke-width="1" fill="none" stroke-linejoin="round" stroke-linecap="round"/>
<circle cx="671.6" cy="652.5" r="2.3" stroke="#1c1c1c" stroke-width="2.1" fill="#fff"/>
<circle cx="700.4" cy="652.5" r="2.3" stroke="#1c1c1c" stroke-width="2.1" fill="#fff"/>
<path d="M663.8 751V739.5L667 735.7H706L709.2 739.5V751Z" stroke="#1c1c1c" stroke-width="1" fill="#fff" stroke-linejoin="round" stroke-linecap="round"/>
<path d="M667.5 751V743Q667.5 741 669.5 741H675V751M705.5 751V743Q705.5 741 703.5 741H698V751" stroke="#1c1c1c" stroke-width="0.7" fill="none" stroke-linejoin="round" stroke-linecap="round"/>
<circle cx="672.3" cy="739.8" r="2.3" stroke="#1c1c1c" stroke-width="2.1" fill="#fff"/>
<circle cx="700.8" cy="739.8" r="2.3" stroke="#1c1c1c" stroke-width="2.1" fill="#fff"/>
<rect x="664.7" y="751" width="43.7" height="9.8" rx="1" stroke="#1c1c1c" stroke-width="1.2" fill="#fff"/>
<path d="M664.7 754.5L708.4 754.5" stroke="#1c1c1c" stroke-width="0.7" fill="none"/>
<path d="M676.4 751L676.4 760.8" stroke="#1c1c1c" stroke-width="0.8" fill="none"/>
<path d="M696.7 751L696.7 760.8" stroke="#1c1c1c" stroke-width="0.8" fill="none"/>
<rect x="664.7" y="760.8" width="9.3" height="4.6" rx="0.5" stroke="#1c1c1c" stroke-width="0.9" fill="none"/>
<rect x="699.2" y="760.8" width="9.2" height="4.6" rx="0.5" stroke="#1c1c1c" stroke-width="0.9" fill="none"/>
<path d="M652.1 795.1L652.8 791.3L667.3 782.1L671.9 789.7L664.3 795.1Z" stroke="#1c1c1c" stroke-width="1" fill="#fff" stroke-linejoin="round"/>
<path d="M721.1 795.1L720.3 791.3L705.8 782.1L701.4 789.7L709 795.1Z" stroke="#1c1c1c" stroke-width="1" fill="#fff" stroke-linejoin="round"/>
<circle cx="686.6" cy="776.3" r="18.2" stroke="#1c1c1c" stroke-width="1.5" fill="#fff"/>
<circle cx="686.6" cy="776.3" r="16.6" stroke="#1c1c1c" stroke-width="0.6" fill="none"/>
<rect x="676.4" y="766.6" width="20.3" height="19.5" rx="0" stroke="#1c1c1c" stroke-width="1.6" fill="none"/>
<circle cx="686.6" cy="776.3" r="1.9" stroke="#1c1c1c" stroke-width="0.5" fill="#1c1c1c"/>
<path d="M686.6 577.3L686.6 635.5" stroke="#1c1c1c" stroke-width="0.8" fill="none"/>
<path d="M686.6 747.9L686.6 805" stroke="#1c1c1c" stroke-width="0.8" fill="none"/>
<rect x="735" y="658.3" width="11.5" height="75.7" rx="0.6" stroke="#1c1c1c" stroke-width="1.1" fill="#fff"/>
<path d="M740.9 658.3L740.9 734" stroke="#1c1c1c" stroke-width="0.7" fill="none"/>
<rect x="731" y="658.5" width="4" height="6" rx="0.4" stroke="#1c1c1c" stroke-width="0.8" fill="none"/>
<rect x="731" y="727.7" width="4" height="6" rx="0.4" stroke="#1c1c1c" stroke-width="0.8" fill="none"/>
<rect x="746.5" y="660.3" width="4.2" height="6.4" rx="0.5" stroke="#1c1c1c" stroke-width="0.8" fill="none"/>
<path d="M748.3 660.3L748.3 666.7" stroke="#1c1c1c" stroke-width="0.5" fill="none"/>
<rect x="746.5" y="676.6" width="4.2" height="6.4" rx="0.5" stroke="#1c1c1c" stroke-width="0.8" fill="none"/>
<path d="M748.3 676.6L748.3 683" stroke="#1c1c1c" stroke-width="0.5" fill="none"/>
<rect x="746.5" y="709.5" width="4.2" height="6.4" rx="0.5" stroke="#1c1c1c" stroke-width="0.8" fill="none"/>
<path d="M748.3 709.5L748.3 715.9" stroke="#1c1c1c" stroke-width="0.5" fill="none"/>
<rect x="746.5" y="724.9" width="4.2" height="6.4" rx="0.5" stroke="#1c1c1c" stroke-width="0.8" fill="none"/>
<path d="M748.3 724.9L748.3 731.3" stroke="#1c1c1c" stroke-width="0.5" fill="none"/>
<path d="M750.7 668L779.2 664" stroke="#1c1c1c" stroke-width="1.3" fill="none" stroke-linejoin="round" stroke-linecap="round"/>
<path d="M750.7 670L779.2 666.5" stroke="#1c1c1c" stroke-width="0.6" fill="none" stroke-linejoin="round" stroke-linecap="round"/>
<path d="M750.7 677.5L779.2 672.8" stroke="#1c1c1c" stroke-width="1.3" fill="none" stroke-linejoin="round" stroke-linecap="round"/>
<path d="M746.5 684H756L759.8 680.8L779.2 675" stroke="#1c1c1c" stroke-width="0.8" fill="none" stroke-linejoin="round" stroke-linecap="round"/>
<path d="M759.8 680.8L759.8 696.2" stroke="#1c1c1c" stroke-width="0.8" fill="none"/>
<path d="M746.5 694.4L779.2 694.4" stroke="#1c1c1c" stroke-width="1.3" fill="none"/>
<rect x="776.3" y="658.5" width="2.9" height="5.8" rx="0.3" stroke="#1c1c1c" stroke-width="0.7" fill="none"/>
<rect x="810.6" y="659" width="3" height="7.9" rx="0.3" stroke="#1c1c1c" stroke-width="0.7" fill="none"/>
<path d="M813.6 670.9L825.5 663.5" stroke="#1c1c1c" stroke-width="0.9" fill="none" stroke-linejoin="round" stroke-linecap="round"/>
<g transform="translate(0,1392.4) scale(1,-1)"><path d="M750.7 668L779.2 664" stroke="#1c1c1c" stroke-width="1.3" fill="none" stroke-linejoin="round" stroke-linecap="round"/><path d="M750.7 670L779.2 666.5" stroke="#1c1c1c" stroke-width="0.6" fill="none" stroke-linejoin="round" stroke-linecap="round"/><path d="M750.7 677.5L779.2 672.8" stroke="#1c1c1c" stroke-width="1.3" fill="none" stroke-linejoin="round" stroke-linecap="round"/><path d="M746.5 684H756L759.8 680.8L779.2 675" stroke="#1c1c1c" stroke-width="0.8" fill="none" stroke-linejoin="round" stroke-linecap="round"/><path d="M759.8 680.8L759.8 696.2" stroke="#1c1c1c" stroke-width="0.8" fill="none"/><path d="M746.5 694.4L779.2 694.4" stroke="#1c1c1c" stroke-width="1.3" fill="none"/><rect x="776.3" y="658.5" width="2.9" height="5.8" rx="0.3" stroke="#1c1c1c" stroke-width="0.7" fill="none"/><rect x="810.6" y="659" width="3" height="7.9" rx="0.3" stroke="#1c1c1c" stroke-width="0.7" fill="none"/><path d="M813.6 670.9L825.5 663.5" stroke="#1c1c1c" stroke-width="0.9" fill="none" stroke-linejoin="round" stroke-linecap="round"/></g>
<rect x="776.3" y="692.5" width="2.9" height="7.4" rx="0.3" stroke="#1c1c1c" stroke-width="0.7" fill="none"/>
<rect x="810.6" y="691.8" width="3" height="8" rx="0.3" stroke="#1c1c1c" stroke-width="0.7" fill="none"/>
<path d="M813.6 670.9L813.6 721.5" stroke="#1c1c1c" stroke-width="0.7" fill="none"/>
<rect x="779.2" y="652.3" width="9.9" height="87.2" rx="0.8" stroke="#1c1c1c" stroke-width="1.1" fill="#fff"/>
<path d="M784.7 652.3L784.7 739.5" stroke="#1c1c1c" stroke-width="0.7" fill="none"/>
<rect x="789.1" y="654" width="11.6" height="84.5" rx="0" stroke="#1c1c1c" stroke-width="0.9" fill="#fff"/>
<rect x="800.7" y="652.3" width="9.9" height="87.2" rx="0.8" stroke="#1c1c1c" stroke-width="1.1" fill="#fff"/>
<path d="M805.3 652.3L805.3 739.5" stroke="#1c1c1c" stroke-width="0.7" fill="none"/>
<rect x="740.9" y="734" width="5.6" height="14.5" rx="0" stroke="#1c1c1c" stroke-width="0.9" fill="none"/>
<rect x="739.3" y="745.2" width="9.2" height="5.3" rx="0.5" stroke="#1c1c1c" stroke-width="0.9" fill="none"/>
<rect x="782.7" y="739.5" width="5.6" height="9" rx="0" stroke="#1c1c1c" stroke-width="0.9" fill="none"/>
<rect x="781" y="745.2" width="9" height="5.3" rx="0.5" stroke="#1c1c1c" stroke-width="0.9" fill="none"/>
<rect x="733" y="750.5" width="60.7" height="9" rx="0.5" stroke="#1c1c1c" stroke-width="1.1" fill="#fff"/>
<rect x="740" y="759.5" width="8.5" height="5.9" rx="0.5" stroke="#1c1c1c" stroke-width="0.9" fill="none"/>
<path d="M742.7 759.5L742.7 765.4" stroke="#1c1c1c" stroke-width="0.5" fill="none"/>
<path d="M745.8 759.5L745.8 765.4" stroke="#1c1c1c" stroke-width="0.5" fill="none"/>
<rect x="782.1" y="759.5" width="8.6" height="5.9" rx="0.5" stroke="#1c1c1c" stroke-width="0.9" fill="none"/>
<path d="M784.8 759.5L784.8 765.4" stroke="#1c1c1c" stroke-width="0.5" fill="none"/>
<path d="M787.9 759.5L787.9 765.4" stroke="#1c1c1c" stroke-width="0.5" fill="none"/>
<path d="M734.6 759.5V799.2M736.5 759.5V797.5H720" stroke="#1c1c1c" stroke-width="0.9" fill="none" stroke-linejoin="round" stroke-linecap="round"/>
<path d="M794.7 759.5V798.5Q795 799.5 797 799.5H824.5M792.7 759.5V797.5" stroke="#1c1c1c" stroke-width="0.9" fill="none" stroke-linejoin="round" stroke-linecap="round"/>
<rect x="825.1" y="657.4" width="7" height="70.7" rx="0" stroke="#1c1c1c" stroke-width="1" fill="#fff"/>
<path d="M828.3 657.4L828.3 728.1" stroke="#1c1c1c" stroke-width="0.6" fill="none"/>
<path d="M825.1 712.5L832.1 712.5" stroke="#1c1c1c" stroke-width="0.7" fill="none"/>
<path d="M825.1 720L832.1 720" stroke="#1c1c1c" stroke-width="0.7" fill="none"/>
<path d="M834.5 657.4H913.5Q915.5 657.4 915.5 659.5V733Q915.5 735.1 913.5 735.1H834.5L832.1 732.8V659.7Z" stroke="#1c1c1c" stroke-width="1.3" fill="#fff" stroke-linejoin="round" stroke-linecap="round"/>
<path d="M835 658.8L913 658.8" stroke="#1c1c1c" stroke-width="1.6" fill="none"/>
<path d="M835 733.7L913 733.7" stroke="#1c1c1c" stroke-width="1.6" fill="none"/>
<path d="M834.7 661.3L913.1 661.3" stroke="#1c1c1c" stroke-width="0.6" fill="none"/>
<path d="M834.7 665.1L913.1 665.1" stroke="#1c1c1c" stroke-width="0.6" fill="none"/>
<path d="M833.7 663.2L914.1 663.2" stroke="#1c1c1c" stroke-width="1.5" fill="none"/>
<path d="M834.7 661.3L833.2 663.2L834.7 665.1M913.1 661.3L914.6 663.2L913.1 665.1" stroke="#1c1c1c" stroke-width="0.5" fill="none" stroke-linejoin="round" stroke-linecap="round"/>
<path d="M834.7 668.66L913.1 668.66" stroke="#1c1c1c" stroke-width="0.6" fill="none"/>
<path d="M834.7 672.46L913.1 672.46" stroke="#1c1c1c" stroke-width="0.6" fill="none"/>
<path d="M833.7 670.56L914.1 670.56" stroke="#444" stroke-width="1" fill="none"/>
<path d="M834.7 668.66L833.2 670.56L834.7 672.46M913.1 668.66L914.6 670.56L913.1 672.46" stroke="#1c1c1c" stroke-width="0.5" fill="none" stroke-linejoin="round" stroke-linecap="round"/>
<path d="M834.7 676.01L913.1 676.01" stroke="#1c1c1c" stroke-width="0.6" fill="none"/>
<path d="M834.7 679.81L913.1 679.81" stroke="#1c1c1c" stroke-width="0.6" fill="none"/>
<path d="M833.7 677.91L914.1 677.91" stroke="#1c1c1c" stroke-width="1.5" fill="none"/>
<path d="M834.7 676.01L833.2 677.91L834.7 679.81M913.1 676.01L914.6 677.91L913.1 679.81" stroke="#1c1c1c" stroke-width="0.5" fill="none" stroke-linejoin="round" stroke-linecap="round"/>
<path d="M834.7 683.37L913.1 683.37" stroke="#1c1c1c" stroke-width="0.6" fill="none"/>
<path d="M834.7 687.17L913.1 687.17" stroke="#1c1c1c" stroke-width="0.6" fill="none"/>
<path d="M833.7 685.27L914.1 685.27" stroke="#444" stroke-width="1" fill="none"/>
<path d="M834.7 683.37L833.2 685.27L834.7 687.17M913.1 683.37L914.6 685.27L913.1 687.17" stroke="#1c1c1c" stroke-width="0.5" fill="none" stroke-linejoin="round" stroke-linecap="round"/>
<path d="M834.7 690.72L913.1 690.72" stroke="#1c1c1c" stroke-width="0.6" fill="none"/>
<path d="M834.7 694.52L913.1 694.52" stroke="#1c1c1c" stroke-width="0.6" fill="none"/>
<path d="M833.7 692.62L914.1 692.62" stroke="#1c1c1c" stroke-width="1.5" fill="none"/>
<path d="M834.7 690.72L833.2 692.62L834.7 694.52M913.1 690.72L914.6 692.62L913.1 694.52" stroke="#1c1c1c" stroke-width="0.5" fill="none" stroke-linejoin="round" stroke-linecap="round"/>
<path d="M834.7 698.08L913.1 698.08" stroke="#1c1c1c" stroke-width="0.6" fill="none"/>
<path d="M834.7 701.88L913.1 701.88" stroke="#1c1c1c" stroke-width="0.6" fill="none"/>
<path d="M833.7 699.98L914.1 699.98" stroke="#444" stroke-width="1" fill="none"/>
<path d="M834.7 698.08L833.2 699.98L834.7 701.88M913.1 698.08L914.6 699.98L913.1 701.88" stroke="#1c1c1c" stroke-width="0.5" fill="none" stroke-linejoin="round" stroke-linecap="round"/>
<path d="M834.7 705.43L913.1 705.43" stroke="#1c1c1c" stroke-width="0.6" fill="none"/>
<path d="M834.7 709.23L913.1 709.23" stroke="#1c1c1c" stroke-width="0.6" fill="none"/>
<path d="M833.7 707.33L914.1 707.33" stroke="#1c1c1c" stroke-width="1.5" fill="none"/>
<path d="M834.7 705.43L833.2 707.33L834.7 709.23M913.1 705.43L914.6 707.33L913.1 709.23" stroke="#1c1c1c" stroke-width="0.5" fill="none" stroke-linejoin="round" stroke-linecap="round"/>
<path d="M834.7 712.79L913.1 712.79" stroke="#1c1c1c" stroke-width="0.6" fill="none"/>
<path d="M834.7 716.59L913.1 716.59" stroke="#1c1c1c" stroke-width="0.6" fill="none"/>
<path d="M833.7 714.69L914.1 714.69" stroke="#444" stroke-width="1" fill="none"/>
<path d="M834.7 712.79L833.2 714.69L834.7 716.59M913.1 712.79L914.6 714.69L913.1 716.59" stroke="#1c1c1c" stroke-width="0.5" fill="none" stroke-linejoin="round" stroke-linecap="round"/>
<path d="M834.7 720.14L913.1 720.14" stroke="#1c1c1c" stroke-width="0.6" fill="none"/>
<path d="M834.7 723.94L913.1 723.94" stroke="#1c1c1c" stroke-width="0.6" fill="none"/>
<path d="M833.7 722.04L914.1 722.04" stroke="#1c1c1c" stroke-width="1.5" fill="none"/>
<path d="M834.7 720.14L833.2 722.04L834.7 723.94M913.1 720.14L914.6 722.04L913.1 723.94" stroke="#1c1c1c" stroke-width="0.5" fill="none" stroke-linejoin="round" stroke-linecap="round"/>
<path d="M834.7 727.5L913.1 727.5" stroke="#1c1c1c" stroke-width="0.6" fill="none"/>
<path d="M834.7 731.3L913.1 731.3" stroke="#1c1c1c" stroke-width="0.6" fill="none"/>
<path d="M833.7 729.4L914.1 729.4" stroke="#444" stroke-width="1" fill="none"/>
<path d="M834.7 727.5L833.2 729.4L834.7 731.3M913.1 727.5L914.6 729.4L913.1 731.3" stroke="#1c1c1c" stroke-width="0.5" fill="none" stroke-linejoin="round" stroke-linecap="round"/>
<rect x="851.1" y="679.8" width="46.2" height="32.9" rx="1" stroke="#1c1c1c" stroke-width="2" fill="#fff"/>
<rect x="853.5" y="682.3" width="41.4" height="27.9" rx="0.5" stroke="#1c1c1c" stroke-width="0.8" fill="none"/>
<rect x="867.5" y="714.5" width="12.6" height="5.6" rx="0.3" stroke="#1c1c1c" stroke-width="0.9" fill="#fff"/>
<path d="M870.8 714.5L870.8 720.1" stroke="#1c1c1c" stroke-width="0.6" fill="none"/>
<path d="M876.8 714.5L876.8 720.1" stroke="#1c1c1c" stroke-width="0.6" fill="none"/>
<circle cx="873.5" cy="649.7" r="6" stroke="#1c1c1c" stroke-width="1.1" fill="#fff"/>
<circle cx="873.5" cy="649.7" r="2.9" stroke="#1c1c1c" stroke-width="1" fill="none"/>
<path d="M869.5 657.4V655.5H877.5V657.4" stroke="#1c1c1c" stroke-width="0.8" fill="none" stroke-linejoin="round" stroke-linecap="round"/>
<path d="M915.5 656.3H932.5Q945.2 656.3 945.2 669V723.5Q945.2 736.1 932.5 736.1H915.5Z" stroke="#1c1c1c" stroke-width="1.1" fill="#fff" stroke-linejoin="round" stroke-linecap="round"/>
<path d="M932.6 656.3L932.6 736.1" stroke="#1c1c1c" stroke-width="0.7" fill="none"/>
<circle cx="919.3" cy="716.2" r="1.2" stroke="#1c1c1c" stroke-width="0.8" fill="#1c1c1c"/>
<path d="M917.5 656.3Q919 654.8 921.5 656.3" stroke="#1c1c1c" stroke-width="0.7" fill="none" stroke-linejoin="round" stroke-linecap="round"/>
<path d="M580.7 588.5L686.6 588.5" stroke="#1c1c1c" stroke-width="0.8" fill="none"/>
<path d="M587.5 588.5L587.5 800" stroke="#1c1c1c" stroke-width="0.8" fill="none"/>
<path d="M587.5 588.5L588.8 595.5L586.2 595.5Z" fill="#1c1c1c"/>
<path d="M587.5 800L586.2 793L588.8 793Z" fill="#1c1c1c"/>
<text x="579.2" y="705.6" font-size="23.5" text-anchor="middle" font-weight="400" fill="#1a1a1a" transform="rotate(-90 579.2 705.6)" textLength="33.3" lengthAdjust="spacingAndGlyphs">558</text>
<path d="M603.5 606.5L715.3 606.5" stroke="#1c1c1c" stroke-width="0.8" fill="none"/>
<path d="M605 776.2L715.3 776.2" stroke="#1c1c1c" stroke-width="0.8" fill="none"/>
<path d="M611.5 606.5L611.5 817" stroke="#1c1c1c" stroke-width="0.8" fill="none"/>
<path d="M611.5 606.5L612.8 613.5L610.2 613.5Z" fill="#1c1c1c"/>
<path d="M611.5 776.2L610.2 769.2L612.8 769.2Z" fill="#1c1c1c"/>
<path d="M611.5 800L612.8 807L610.2 807Z" fill="#1c1c1c"/>
<text x="611.1" y="692.9" font-size="23.5" text-anchor="middle" font-weight="400" fill="#1a1a1a" transform="rotate(-90 611.1 692.9)" textLength="34.2" lengthAdjust="spacingAndGlyphs">446</text>
<text x="611.1" y="788.2" font-size="23.5" text-anchor="middle" font-weight="400" fill="#1a1a1a" transform="rotate(-90 611.1 788.2)" textLength="20.7" lengthAdjust="spacingAndGlyphs">64</text>
<path d="M926.8 696.3L978.6 696.3" stroke="#1c1c1c" stroke-width="0.8" fill="none"/>
<path d="M971 696.3L971 800" stroke="#1c1c1c" stroke-width="0.8" fill="none"/>
<path d="M971 696.3L972.3 703.3L969.7 703.3Z" fill="#1c1c1c"/>
<path d="M971 800L969.7 793L972.3 793Z" fill="#1c1c1c"/>
<text x="965.2" y="757.2" font-size="23.5" text-anchor="middle" font-weight="400" fill="#1a1a1a" transform="rotate(-90 965.2 757.2)" textLength="35.8" lengthAdjust="spacingAndGlyphs">274</text>
</svg>
</body></html>
